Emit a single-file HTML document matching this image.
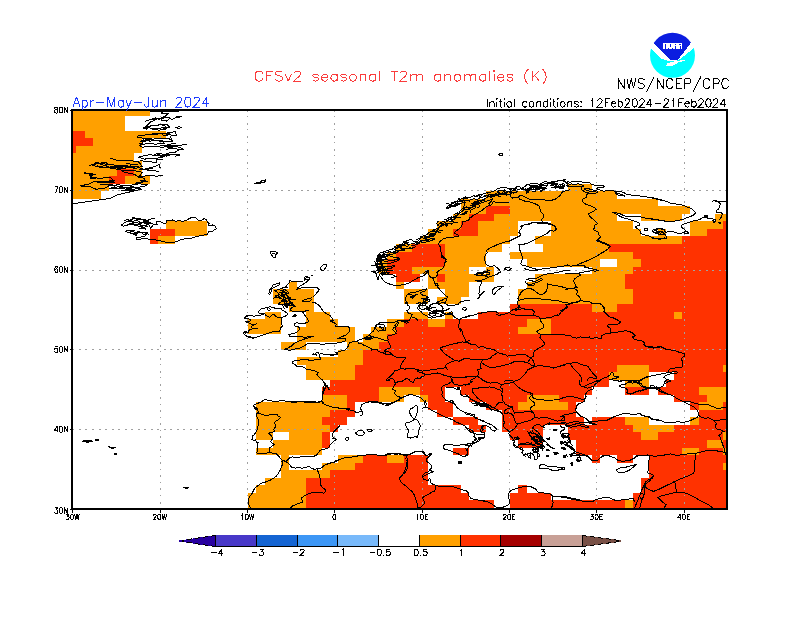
<!DOCTYPE html><html><head><meta charset="utf-8"><style>html,body{margin:0;padding:0;background:#fff;font-family:"Liberation Sans",sans-serif}body{width:800px;height:618px;position:relative;overflow:hidden}</style></head><body><svg width="800" height="618" viewBox="0 0 800 618" style="position:absolute;left:0;top:0">
<rect width="800" height="618" fill="#fff"/>
<g shape-rendering="crispEdges">
<rect x="72.25" y="110.00" width="77.78" height="5.79" fill="#ffa000"/>
<rect x="72.25" y="115.79" width="53.22" height="7.54" fill="#ffa000"/>
<rect x="72.25" y="123.33" width="53.22" height="7.54" fill="#ffa000"/>
<rect x="72.25" y="130.87" width="12.28" height="7.54" fill="#ff3200"/>
<rect x="84.53" y="130.87" width="81.88" height="7.54" fill="#ffa000"/>
<rect x="72.25" y="138.41" width="20.47" height="7.54" fill="#ff3200"/>
<rect x="92.72" y="138.41" width="49.12" height="7.54" fill="#ffa000"/>
<rect x="72.25" y="145.95" width="4.09" height="7.54" fill="#ff3200"/>
<rect x="76.34" y="145.95" width="65.50" height="7.54" fill="#ffa000"/>
<rect x="72.25" y="153.49" width="61.41" height="7.54" fill="#ffa000"/>
<rect x="72.25" y="161.03" width="69.59" height="7.54" fill="#ffa000"/>
<rect x="72.25" y="168.57" width="45.03" height="7.54" fill="#ffa000"/>
<rect x="117.28" y="168.57" width="16.38" height="7.54" fill="#ff3200"/>
<rect x="133.66" y="168.57" width="8.19" height="7.54" fill="#ffa000"/>
<rect x="72.25" y="176.11" width="36.84" height="7.54" fill="#ffa000"/>
<rect x="109.09" y="176.11" width="16.38" height="7.54" fill="#ff3200"/>
<rect x="125.47" y="176.11" width="24.56" height="7.54" fill="#ffa000"/>
<rect x="72.25" y="183.65" width="36.84" height="7.54" fill="#ffa000"/>
<rect x="567.59" y="183.65" width="24.56" height="7.54" fill="#ffa000"/>
<rect x="72.25" y="191.19" width="28.66" height="7.54" fill="#ffa000"/>
<rect x="485.72" y="191.19" width="131.00" height="7.54" fill="#ffa000"/>
<rect x="461.16" y="198.73" width="196.50" height="7.54" fill="#ffa000"/>
<rect x="461.16" y="206.27" width="24.56" height="7.54" fill="#ffa000"/>
<rect x="485.72" y="206.27" width="24.56" height="7.54" fill="#ff3200"/>
<rect x="510.28" y="206.27" width="180.12" height="7.54" fill="#ffa000"/>
<rect x="452.97" y="213.81" width="16.38" height="7.54" fill="#ffa000"/>
<rect x="469.34" y="213.81" width="24.56" height="7.54" fill="#ff3200"/>
<rect x="493.91" y="213.81" width="122.81" height="7.54" fill="#ffa000"/>
<rect x="641.28" y="213.81" width="40.94" height="7.54" fill="#ffa000"/>
<rect x="714.97" y="213.81" width="12.28" height="7.54" fill="#ffa000"/>
<rect x="166.41" y="221.35" width="40.94" height="7.54" fill="#ffa000"/>
<rect x="436.59" y="221.35" width="24.56" height="7.54" fill="#ffa000"/>
<rect x="461.16" y="221.35" width="16.38" height="7.54" fill="#ff3200"/>
<rect x="477.53" y="221.35" width="40.94" height="7.54" fill="#ffa000"/>
<rect x="551.22" y="221.35" width="81.88" height="7.54" fill="#ffa000"/>
<rect x="690.41" y="221.35" width="32.75" height="7.54" fill="#ffa000"/>
<rect x="723.16" y="221.35" width="4.09" height="7.54" fill="#ff3200"/>
<rect x="150.03" y="228.89" width="24.56" height="7.54" fill="#ff3200"/>
<rect x="174.59" y="228.89" width="32.75" height="7.54" fill="#ffa000"/>
<rect x="428.41" y="228.89" width="24.56" height="7.54" fill="#ffa000"/>
<rect x="452.97" y="228.89" width="24.56" height="7.54" fill="#ff3200"/>
<rect x="477.53" y="228.89" width="40.94" height="7.54" fill="#ffa000"/>
<rect x="551.22" y="228.89" width="90.06" height="7.54" fill="#ffa000"/>
<rect x="657.66" y="228.89" width="8.19" height="7.54" fill="#ffa000"/>
<rect x="690.41" y="228.89" width="16.38" height="7.54" fill="#ffa000"/>
<rect x="706.78" y="228.89" width="20.47" height="7.54" fill="#ff3200"/>
<rect x="150.03" y="236.43" width="8.19" height="7.54" fill="#ff3200"/>
<rect x="158.22" y="236.43" width="16.38" height="7.54" fill="#ffa000"/>
<rect x="420.22" y="236.43" width="90.06" height="7.54" fill="#ffa000"/>
<rect x="534.84" y="236.43" width="147.38" height="7.54" fill="#ffa000"/>
<rect x="682.22" y="236.43" width="45.03" height="7.54" fill="#ff3200"/>
<rect x="395.66" y="243.97" width="16.38" height="7.54" fill="#ffa000"/>
<rect x="412.03" y="243.97" width="32.75" height="7.54" fill="#ff3200"/>
<rect x="444.78" y="243.97" width="57.31" height="7.54" fill="#ffa000"/>
<rect x="543.03" y="243.97" width="65.50" height="7.54" fill="#ffa000"/>
<rect x="608.53" y="243.97" width="118.72" height="7.54" fill="#ff3200"/>
<rect x="387.47" y="251.51" width="8.19" height="7.54" fill="#ffa000"/>
<rect x="395.66" y="251.51" width="49.12" height="7.54" fill="#ff3200"/>
<rect x="444.78" y="251.51" width="40.94" height="7.54" fill="#ffa000"/>
<rect x="510.28" y="251.51" width="122.81" height="7.54" fill="#ffa000"/>
<rect x="633.09" y="251.51" width="94.16" height="7.54" fill="#ff3200"/>
<rect x="379.28" y="259.05" width="8.19" height="7.54" fill="#ffa000"/>
<rect x="387.47" y="259.05" width="57.31" height="7.54" fill="#ff3200"/>
<rect x="444.78" y="259.05" width="40.94" height="7.54" fill="#ffa000"/>
<rect x="526.66" y="259.05" width="73.69" height="7.54" fill="#ffa000"/>
<rect x="616.72" y="259.05" width="24.56" height="7.54" fill="#ffa000"/>
<rect x="641.28" y="259.05" width="85.97" height="7.54" fill="#ff3200"/>
<rect x="379.28" y="266.59" width="8.19" height="7.54" fill="#ffa000"/>
<rect x="387.47" y="266.59" width="24.56" height="7.54" fill="#ff3200"/>
<rect x="412.03" y="266.59" width="57.31" height="7.54" fill="#ffa000"/>
<rect x="485.72" y="266.59" width="8.19" height="7.54" fill="#ffa000"/>
<rect x="592.16" y="266.59" width="40.94" height="7.54" fill="#ffa000"/>
<rect x="633.09" y="266.59" width="94.16" height="7.54" fill="#ff3200"/>
<rect x="395.66" y="274.13" width="24.56" height="7.54" fill="#ff3200"/>
<rect x="428.41" y="274.13" width="8.19" height="7.54" fill="#ffa000"/>
<rect x="436.59" y="274.13" width="8.19" height="7.54" fill="#ff3200"/>
<rect x="444.78" y="274.13" width="49.12" height="7.54" fill="#ffa000"/>
<rect x="534.84" y="274.13" width="90.06" height="7.54" fill="#ffa000"/>
<rect x="624.91" y="274.13" width="102.34" height="7.54" fill="#ff3200"/>
<rect x="289.22" y="281.67" width="8.19" height="7.54" fill="#ffa000"/>
<rect x="395.66" y="281.67" width="8.19" height="7.54" fill="#ffa000"/>
<rect x="428.41" y="281.67" width="40.94" height="7.54" fill="#ffa000"/>
<rect x="526.66" y="281.67" width="98.25" height="7.54" fill="#ffa000"/>
<rect x="624.91" y="281.67" width="102.34" height="7.54" fill="#ff3200"/>
<rect x="272.84" y="289.21" width="40.94" height="7.54" fill="#ffa000"/>
<rect x="403.84" y="289.21" width="24.56" height="7.54" fill="#ffa000"/>
<rect x="444.78" y="289.21" width="24.56" height="7.54" fill="#ffa000"/>
<rect x="518.47" y="289.21" width="114.62" height="7.54" fill="#ffa000"/>
<rect x="633.09" y="289.21" width="94.16" height="7.54" fill="#ff3200"/>
<rect x="272.84" y="296.75" width="40.94" height="7.54" fill="#ffa000"/>
<rect x="403.84" y="296.75" width="24.56" height="7.54" fill="#ffa000"/>
<rect x="436.59" y="296.75" width="24.56" height="7.54" fill="#ffa000"/>
<rect x="518.47" y="296.75" width="114.62" height="7.54" fill="#ffa000"/>
<rect x="633.09" y="296.75" width="94.16" height="7.54" fill="#ff3200"/>
<rect x="289.22" y="304.29" width="24.56" height="7.54" fill="#ffa000"/>
<rect x="510.28" y="304.29" width="81.88" height="7.54" fill="#ff3200"/>
<rect x="592.16" y="304.29" width="24.56" height="7.54" fill="#ffa000"/>
<rect x="616.72" y="304.29" width="110.53" height="7.54" fill="#ff3200"/>
<rect x="264.66" y="311.83" width="16.38" height="7.54" fill="#ffa000"/>
<rect x="305.59" y="311.83" width="24.56" height="7.54" fill="#ffa000"/>
<rect x="403.84" y="311.83" width="24.56" height="7.54" fill="#ffa000"/>
<rect x="444.78" y="311.83" width="8.19" height="7.54" fill="#ffa000"/>
<rect x="477.53" y="311.83" width="196.50" height="7.54" fill="#ff3200"/>
<rect x="674.03" y="311.83" width="8.19" height="7.54" fill="#ffa000"/>
<rect x="682.22" y="311.83" width="45.03" height="7.54" fill="#ff3200"/>
<rect x="248.28" y="319.37" width="32.75" height="7.54" fill="#ffa000"/>
<rect x="305.59" y="319.37" width="32.75" height="7.54" fill="#ffa000"/>
<rect x="387.47" y="319.37" width="16.38" height="7.54" fill="#ffa000"/>
<rect x="403.84" y="319.37" width="24.56" height="7.54" fill="#ff3200"/>
<rect x="428.41" y="319.37" width="16.38" height="7.54" fill="#ffa000"/>
<rect x="444.78" y="319.37" width="81.88" height="7.54" fill="#ff3200"/>
<rect x="526.66" y="319.37" width="24.56" height="7.54" fill="#ffa000"/>
<rect x="551.22" y="319.37" width="176.03" height="7.54" fill="#ff3200"/>
<rect x="248.28" y="326.91" width="32.75" height="7.54" fill="#ffa000"/>
<rect x="297.41" y="326.91" width="57.31" height="7.54" fill="#ffa000"/>
<rect x="371.09" y="326.91" width="24.56" height="7.54" fill="#ffa000"/>
<rect x="395.66" y="326.91" width="122.81" height="7.54" fill="#ff3200"/>
<rect x="518.47" y="326.91" width="32.75" height="7.54" fill="#ffa000"/>
<rect x="551.22" y="326.91" width="176.03" height="7.54" fill="#ff3200"/>
<rect x="297.41" y="334.45" width="57.31" height="7.54" fill="#ffa000"/>
<rect x="362.91" y="334.45" width="24.56" height="7.54" fill="#ffa000"/>
<rect x="387.47" y="334.45" width="339.78" height="7.54" fill="#ff3200"/>
<rect x="281.03" y="341.99" width="24.56" height="7.54" fill="#ffa000"/>
<rect x="346.53" y="341.99" width="32.75" height="7.54" fill="#ffa000"/>
<rect x="379.28" y="341.99" width="347.97" height="7.54" fill="#ff3200"/>
<rect x="338.34" y="349.53" width="24.56" height="7.54" fill="#ffa000"/>
<rect x="362.91" y="349.53" width="364.34" height="7.54" fill="#ff3200"/>
<rect x="297.41" y="357.07" width="65.50" height="7.54" fill="#ffa000"/>
<rect x="362.91" y="357.07" width="364.34" height="7.54" fill="#ff3200"/>
<rect x="305.59" y="364.61" width="49.12" height="7.54" fill="#ffa000"/>
<rect x="354.72" y="364.61" width="262.00" height="7.54" fill="#ff3200"/>
<rect x="616.72" y="364.61" width="32.75" height="7.54" fill="#ffa000"/>
<rect x="649.47" y="364.61" width="73.69" height="7.54" fill="#ff3200"/>
<rect x="723.16" y="364.61" width="4.09" height="7.54" fill="#ffa000"/>
<rect x="305.59" y="372.15" width="49.12" height="7.54" fill="#ffa000"/>
<rect x="354.72" y="372.15" width="253.81" height="7.54" fill="#ff3200"/>
<rect x="608.53" y="372.15" width="40.94" height="7.54" fill="#ffa000"/>
<rect x="674.03" y="372.15" width="53.22" height="7.54" fill="#ff3200"/>
<rect x="330.16" y="379.69" width="278.38" height="7.54" fill="#ff3200"/>
<rect x="624.91" y="379.69" width="24.56" height="7.54" fill="#ffa000"/>
<rect x="665.84" y="379.69" width="61.41" height="7.54" fill="#ff3200"/>
<rect x="321.97" y="387.23" width="57.31" height="7.54" fill="#ff3200"/>
<rect x="379.28" y="387.23" width="40.94" height="7.54" fill="#ffa000"/>
<rect x="420.22" y="387.23" width="24.56" height="7.54" fill="#ff3200"/>
<rect x="461.16" y="387.23" width="131.00" height="7.54" fill="#ff3200"/>
<rect x="624.91" y="387.23" width="24.56" height="7.54" fill="#ff3200"/>
<rect x="657.66" y="387.23" width="40.94" height="7.54" fill="#ff3200"/>
<rect x="698.59" y="387.23" width="28.66" height="7.54" fill="#ffa000"/>
<rect x="321.97" y="394.77" width="24.56" height="7.54" fill="#ffa000"/>
<rect x="346.53" y="394.77" width="32.75" height="7.54" fill="#ff3200"/>
<rect x="379.28" y="394.77" width="24.56" height="7.54" fill="#ffa000"/>
<rect x="420.22" y="394.77" width="8.19" height="7.54" fill="#ffa000"/>
<rect x="428.41" y="394.77" width="16.38" height="7.54" fill="#ff3200"/>
<rect x="469.34" y="394.77" width="57.31" height="7.54" fill="#ff3200"/>
<rect x="526.66" y="394.77" width="32.75" height="7.54" fill="#ffa000"/>
<rect x="559.41" y="394.77" width="24.56" height="7.54" fill="#ff3200"/>
<rect x="674.03" y="394.77" width="32.75" height="7.54" fill="#ff3200"/>
<rect x="706.78" y="394.77" width="20.47" height="7.54" fill="#ffa000"/>
<rect x="256.47" y="402.31" width="90.06" height="7.54" fill="#ffa000"/>
<rect x="346.53" y="402.31" width="8.19" height="7.54" fill="#ff3200"/>
<rect x="428.41" y="402.31" width="24.56" height="7.54" fill="#ff3200"/>
<rect x="485.72" y="402.31" width="32.75" height="7.54" fill="#ff3200"/>
<rect x="518.47" y="402.31" width="49.12" height="7.54" fill="#ffa000"/>
<rect x="567.59" y="402.31" width="8.19" height="7.54" fill="#ff3200"/>
<rect x="690.41" y="402.31" width="8.19" height="7.54" fill="#ff3200"/>
<rect x="698.59" y="402.31" width="24.56" height="7.54" fill="#ffa000"/>
<rect x="723.16" y="402.31" width="4.09" height="7.54" fill="#ff3200"/>
<rect x="256.47" y="409.85" width="73.69" height="7.54" fill="#ffa000"/>
<rect x="330.16" y="409.85" width="24.56" height="7.54" fill="#ff3200"/>
<rect x="436.59" y="409.85" width="16.38" height="7.54" fill="#ff3200"/>
<rect x="502.09" y="409.85" width="73.69" height="7.54" fill="#ff3200"/>
<rect x="698.59" y="409.85" width="28.66" height="7.54" fill="#ff3200"/>
<rect x="256.47" y="417.39" width="65.50" height="7.54" fill="#ffa000"/>
<rect x="321.97" y="417.39" width="24.56" height="7.54" fill="#ff3200"/>
<rect x="452.97" y="417.39" width="24.56" height="7.54" fill="#ff3200"/>
<rect x="502.09" y="417.39" width="81.88" height="7.54" fill="#ff3200"/>
<rect x="592.16" y="417.39" width="32.75" height="7.54" fill="#ff3200"/>
<rect x="624.91" y="417.39" width="24.56" height="7.54" fill="#ffa000"/>
<rect x="690.41" y="417.39" width="8.19" height="7.54" fill="#ffa000"/>
<rect x="698.59" y="417.39" width="28.66" height="7.54" fill="#ff3200"/>
<rect x="256.47" y="424.93" width="73.69" height="7.54" fill="#ffa000"/>
<rect x="330.16" y="424.93" width="8.19" height="7.54" fill="#ff3200"/>
<rect x="469.34" y="424.93" width="16.38" height="7.54" fill="#ff3200"/>
<rect x="502.09" y="424.93" width="40.94" height="7.54" fill="#ff3200"/>
<rect x="567.59" y="424.93" width="65.50" height="7.54" fill="#ff3200"/>
<rect x="633.09" y="424.93" width="40.94" height="7.54" fill="#ffa000"/>
<rect x="674.03" y="424.93" width="53.22" height="7.54" fill="#ff3200"/>
<rect x="256.47" y="432.47" width="16.38" height="7.54" fill="#ffa000"/>
<rect x="289.22" y="432.47" width="32.75" height="7.54" fill="#ffa000"/>
<rect x="321.97" y="432.47" width="8.19" height="7.54" fill="#ff3200"/>
<rect x="510.28" y="432.47" width="32.75" height="7.54" fill="#ff3200"/>
<rect x="567.59" y="432.47" width="73.69" height="7.54" fill="#ff3200"/>
<rect x="641.28" y="432.47" width="16.38" height="7.54" fill="#ffa000"/>
<rect x="657.66" y="432.47" width="65.50" height="7.54" fill="#ff3200"/>
<rect x="723.16" y="432.47" width="4.09" height="7.54" fill="#ffa000"/>
<rect x="272.84" y="440.01" width="49.12" height="7.54" fill="#ffa000"/>
<rect x="321.97" y="440.01" width="8.19" height="7.54" fill="#ff3200"/>
<rect x="518.47" y="440.01" width="24.56" height="7.54" fill="#ff3200"/>
<rect x="575.78" y="440.01" width="131.00" height="7.54" fill="#ff3200"/>
<rect x="706.78" y="440.01" width="16.38" height="7.54" fill="#ffa000"/>
<rect x="723.16" y="440.01" width="4.09" height="7.54" fill="#ff3200"/>
<rect x="256.47" y="447.55" width="65.50" height="7.54" fill="#ffa000"/>
<rect x="452.97" y="447.55" width="16.38" height="7.54" fill="#ff3200"/>
<rect x="575.78" y="447.55" width="106.44" height="7.54" fill="#ff3200"/>
<rect x="682.22" y="447.55" width="16.38" height="7.54" fill="#ffa000"/>
<rect x="698.59" y="447.55" width="24.56" height="7.54" fill="#ff3200"/>
<rect x="723.16" y="447.55" width="4.09" height="7.54" fill="#ffa000"/>
<rect x="281.03" y="455.09" width="8.19" height="7.54" fill="#ffa000"/>
<rect x="338.34" y="455.09" width="24.56" height="7.54" fill="#ffa000"/>
<rect x="362.91" y="455.09" width="24.56" height="7.54" fill="#ff3200"/>
<rect x="387.47" y="455.09" width="16.38" height="7.54" fill="#ffa000"/>
<rect x="403.84" y="455.09" width="24.56" height="7.54" fill="#ff3200"/>
<rect x="592.16" y="455.09" width="8.19" height="7.54" fill="#ff3200"/>
<rect x="616.72" y="455.09" width="16.38" height="7.54" fill="#ff3200"/>
<rect x="649.47" y="455.09" width="77.78" height="7.54" fill="#ff3200"/>
<rect x="281.03" y="462.63" width="8.19" height="7.54" fill="#ffa000"/>
<rect x="321.97" y="462.63" width="32.75" height="7.54" fill="#ffa000"/>
<rect x="354.72" y="462.63" width="73.69" height="7.54" fill="#ff3200"/>
<rect x="649.47" y="462.63" width="73.69" height="7.54" fill="#ff3200"/>
<rect x="723.16" y="462.63" width="4.09" height="7.54" fill="#ffa000"/>
<rect x="281.03" y="470.17" width="49.12" height="7.54" fill="#ffa000"/>
<rect x="330.16" y="470.17" width="98.25" height="7.54" fill="#ff3200"/>
<rect x="649.47" y="470.17" width="77.78" height="7.54" fill="#ff3200"/>
<rect x="264.66" y="477.71" width="40.94" height="7.54" fill="#ffa000"/>
<rect x="305.59" y="477.71" width="122.81" height="7.54" fill="#ff3200"/>
<rect x="641.28" y="477.71" width="85.97" height="7.54" fill="#ff3200"/>
<rect x="256.47" y="485.25" width="49.12" height="7.54" fill="#ffa000"/>
<rect x="305.59" y="485.25" width="155.56" height="7.54" fill="#ff3200"/>
<rect x="518.47" y="485.25" width="8.19" height="7.54" fill="#ff3200"/>
<rect x="641.28" y="485.25" width="85.97" height="7.54" fill="#ff3200"/>
<rect x="248.28" y="492.79" width="57.31" height="7.54" fill="#ffa000"/>
<rect x="305.59" y="492.79" width="163.75" height="7.54" fill="#ff3200"/>
<rect x="510.28" y="492.79" width="40.94" height="7.54" fill="#ff3200"/>
<rect x="633.09" y="492.79" width="94.16" height="7.54" fill="#ff3200"/>
<rect x="248.28" y="500.33" width="57.31" height="7.54" fill="#ffa000"/>
<rect x="305.59" y="500.33" width="188.31" height="7.54" fill="#ff3200"/>
<rect x="510.28" y="500.33" width="114.62" height="7.54" fill="#ff3200"/>
<rect x="624.91" y="500.33" width="8.19" height="7.54" fill="#ffa000"/>
<rect x="633.09" y="500.33" width="94.16" height="7.54" fill="#ff3200"/>
</g>
<g stroke="#a0a0a0" stroke-width="1" stroke-dasharray="1.5 5" shape-rendering="crispEdges">
<line x1="160.5" y1="110.0" x2="160.5" y2="509.0" stroke-dasharray="2 4.53 1 5.53" stroke-dashoffset="0.3"/>
<line x1="247.5" y1="110.0" x2="247.5" y2="509.0" stroke-dasharray="2 4.53 1 5.53" stroke-dashoffset="0.3"/>
<line x1="334.5" y1="110.0" x2="334.5" y2="509.0" stroke-dasharray="2 4.53 1 5.53" stroke-dashoffset="0.3"/>
<line x1="422.5" y1="110.0" x2="422.5" y2="509.0" stroke-dasharray="2 4.53 1 5.53" stroke-dashoffset="0.3"/>
<line x1="509.5" y1="110.0" x2="509.5" y2="509.0" stroke-dasharray="2 4.53 1 5.53" stroke-dashoffset="0.3"/>
<line x1="596.5" y1="110.0" x2="596.5" y2="509.0" stroke-dasharray="2 4.53 1 5.53" stroke-dashoffset="0.3"/>
<line x1="684.5" y1="110.0" x2="684.5" y2="509.0" stroke-dasharray="2 4.53 1 5.53" stroke-dashoffset="0.3"/>
<line x1="72.2" y1="429.5" x2="727.2" y2="429.5" stroke-dasharray="2 4.53" stroke-dashoffset="-0.2"/>
<line x1="72.2" y1="349.5" x2="727.2" y2="349.5" stroke-dasharray="2 4.53" stroke-dashoffset="-0.2"/>
<line x1="72.2" y1="270.5" x2="727.2" y2="270.5" stroke-dasharray="2 4.53" stroke-dashoffset="-0.2"/>
<line x1="72.2" y1="190.5" x2="727.2" y2="190.5" stroke-dasharray="2 4.53" stroke-dashoffset="-0.2"/>
</g>
<clipPath id="mc"><rect x="72" y="110" width="655" height="399"/></clipPath><g clip-path="url(#mc)"><path d="M150.3,112.0 158.4,111.0 174.4,111.6 179.4,111.0 M161.4,114.0 168.4,113.0 164.4,117.0 170.4,118.0 166.4,121.1 161.4,120.0 164.4,116.0 M171.4,120.0 176.4,117.0 181.4,116.4 177.4,118.0 M145.3,121.1 152.3,119.0 158.4,118.4 150.3,122.1 147.3,125.1 143.3,128.1 146.3,129.1 150.3,126.1 158.4,125.1 166.4,124.1 169.4,127.1 160.4,128.1 152.3,129.1 158.4,130.1 166.4,129.7 M174.4,128.1 179.4,126.5 181.4,127.7 176.4,129.1 M137.3,136.1 144.3,135.1 154.3,134.1 166.4,133.1 175.4,131.7 176.4,135.1 170.4,136.1 172.4,141.1 168.4,138.1 158.4,138.1 150.3,139.7 142.3,138.1 137.3,137.1 M142.3,140.1 150.3,141.1 160.4,140.1 164.4,143.1 156.3,144.1 146.3,143.7 139.3,145.1 142.3,147.2 150.3,146.2 162.4,147.2 170.4,146.2 179.4,147.2 183.5,149.2 178.4,150.2 174.4,152.6 166.4,153.2 164.4,156.2 156.3,155.8 150.3,154.6 142.3,156.2 138.3,157.2 144.3,159.2 150.3,158.2 157.3,159.2 156.3,162.2 148.3,161.8 140.3,160.6 M166.4,149.2 174.4,148.2 M110.2,158.2 118.2,160.6 130.2,160.6 138.3,161.8 142.3,166.2 136.3,168.2 126.2,167.2 116.2,165.2 106.1,164.2 96.1,162.6 92.1,165.2 100.1,167.2 112.2,168.2 122.2,170.2 134.3,170.7 142.3,172.3 140.3,175.3 138.3,177.3 144.3,178.3 145.3,181.3 140.3,180.3 M84.1,172.7 94.1,174.3 90.1,177.3 100.1,178.3 110.2,177.3 113.2,180.3 104.1,181.9 94.1,181.3 88.1,184.3 80.0,185.9 90.1,186.7 96.1,189.3 104.1,188.3 110.2,185.3 120.2,186.3 130.2,185.3 138.3,183.9 147.3,184.3 144.3,186.7 136.3,187.3 128.2,188.7 M118.2,168.2 124.2,172.3 134.3,174.3 139.3,177.3 M72.0,204.0 82.0,202.4 96.1,200.4 110.2,198.4 116.2,195.3 128.2,192.3 141.3,189.3 138.3,188.3 128.2,190.3 M120.6,225.6 125.0,222.5 131.2,219.4 136.2,218.1 140.0,219.0 145.0,220.6 148.1,221.9 148.8,225.0 145.6,223.8 142.5,222.5 138.8,221.9 135.0,222.5 131.2,223.8 127.5,225.0 123.8,226.2 120.6,225.6 M127.5,220.6 132.5,221.2 137.5,220.6 M133.8,225.0 138.8,226.2 145.0,225.6 M125.0,231.2 130.0,230.0 135.0,230.6 132.5,231.9 127.5,232.2 125.0,231.2 M138.8,228.1 144.4,228.8 141.2,227.5 M148.8,225.0 150.6,228.1 153.1,225.0 156.2,223.8 156.2,221.9 160.0,221.2 163.1,223.1 165.6,223.8 166.9,220.6 172.5,220.0 175.6,221.2 178.8,220.6 182.5,221.2 186.2,220.6 190.0,218.1 193.1,217.5 196.2,218.1 197.5,220.0 201.2,220.6 203.8,218.8 206.2,219.4 207.5,221.9 209.4,223.8 208.1,225.6 212.5,225.0 215.6,226.2 216.2,228.8 213.8,230.0 211.9,231.9 208.8,231.2 207.5,234.4 201.2,235.6 195.0,236.9 190.0,238.8 185.0,238.8 180.0,240.0 176.2,241.9 170.0,242.5 163.8,241.9 160.0,240.6 156.2,240.0 151.2,239.4 146.2,238.8 141.2,239.0 136.9,239.4 136.2,237.8 140.0,237.2 145.0,236.2 146.9,234.4 143.8,234.4 141.9,233.1 145.6,232.8 146.9,233.8 M290.0,280.6 291.2,281.2 297.5,281.2 303.8,281.0 305.6,278.8 306.9,276.9 309.4,278.1 308.1,280.6 305.0,283.1 300.0,286.2 297.5,288.1 296.9,289.4 298.8,288.5 303.8,287.5 310.0,287.5 317.5,287.8 319.4,289.8 317.5,291.9 315.0,295.0 312.5,297.5 308.8,298.5 305.0,299.4 301.9,301.2 305.6,301.9 310.0,301.2 311.9,299.4 310.0,298.1 M311.9,301.9 315.0,302.8 318.1,304.4 320.6,306.9 321.9,309.4 323.8,311.9 326.9,313.8 330.0,315.6 331.9,318.1 333.1,320.6 330.0,321.0 333.8,322.5 336.2,324.4 335.6,326.2 338.8,326.2 345.0,326.0 348.8,326.9 349.8,329.4 348.8,332.5 346.2,335.0 343.1,336.2 340.0,337.5 337.5,338.5 342.5,338.8 346.2,339.0 345.0,341.2 340.0,342.5 336.2,343.1 330.0,343.5 325.0,344.0 321.2,344.4 317.5,343.5 312.5,343.8 308.8,343.1 306.2,344.4 303.8,346.2 300.0,348.1 296.2,348.8 291.2,350.0 287.5,350.0 284.4,349.4 287.5,348.1 291.2,346.2 293.8,343.8 296.9,341.9 300.0,340.6 305.0,338.8 310.0,337.5 313.8,336.0 311.2,336.2 306.2,337.2 301.2,336.9 297.5,336.2 292.5,336.5 289.4,336.2 288.8,334.8 291.9,333.8 296.2,332.8 298.8,330.6 299.4,328.1 298.1,326.2 295.0,326.2 294.4,323.8 296.9,322.8 300.0,323.5 303.8,323.1 307.5,322.9 308.8,321.2 307.5,318.8 305.6,316.2 303.8,313.8 302.5,311.9 305.0,311.2 308.8,310.6 M308.8,310.6 305.0,311.0 300.0,311.2 296.2,311.9 292.5,311.5 290.0,310.0 291.2,308.1 293.8,306.2 292.5,305.0 290.0,305.6 287.5,306.2 285.6,305.6 286.2,303.1 283.8,304.4 280.0,305.0 278.1,303.8 281.2,301.9 283.8,300.0 281.2,298.8 277.5,297.5 273.8,298.1 275.6,296.2 279.4,295.0 277.5,292.5 275.0,290.6 278.8,289.4 282.5,288.1 286.2,286.9 287.5,284.4 289.4,282.5 290.0,280.6 M268.8,294.4 269.4,290.0 271.9,287.5 273.1,285.0 276.9,283.8 280.0,282.5 279.4,285.0 276.2,286.2 273.8,287.5 271.9,289.4 270.6,293.8 268.8,294.4 M280.0,290.0 283.8,291.9 281.2,293.8 285.0,295.0 282.5,296.9 286.2,298.1 283.8,300.0 287.5,301.2 285.6,303.8 289.4,303.1 291.2,301.9 288.8,300.0 290.6,298.1 287.5,296.2 286.2,293.8 287.5,291.2 284.4,289.4 281.9,290.6 283.1,293.1 280.6,295.6 284.4,297.5 281.9,300.6 286.2,301.9 287.5,305.0 290.0,303.8 M304.4,277.5 306.2,276.5 308.8,277.2 310.0,278.8 307.5,280.0 305.0,279.4 304.4,277.5 M311.2,275.6 313.1,275.0 M292.5,316.2 295.0,314.8 296.5,315.2 294.4,316.9 292.5,316.2 M257.8,312.0 260.0,309.8 262.3,308.3 266.0,307.9 268.3,307.5 269.8,306.4 272.0,307.5 275.0,308.1 278.0,308.3 281.0,308.4 282.1,310.1 284.8,311.3 287.0,313.1 287.4,314.6 285.5,316.1 283.3,316.9 281.8,317.6 281.0,319.1 281.4,321.4 281.8,324.0 282.5,326.3 281.0,327.4 280.3,329.6 279.5,331.5 277.3,331.9 275.0,331.5 272.8,331.9 270.5,332.3 268.3,333.4 266.0,334.1 263.8,334.9 261.5,335.3 259.3,336.4 257.0,337.1 254.8,337.1 253.3,338.3 251.0,337.5 248.8,337.5 246.5,336.0 244.6,334.9 243.5,333.4 243.9,331.9 245.8,331.5 247.3,333.0 248.4,332.3 248.4,330.8 249.9,329.6 252.5,328.9 255.1,328.5 257.4,328.4 254.8,328.9 252.1,328.1 251.4,326.6 252.9,325.5 255.1,324.4 256.3,323.9 254.4,324.8 252.1,324.8 250.6,323.6 248.8,322.9 246.5,322.5 245.4,321.8 247.3,321.0 249.1,321.4 251.0,320.3 249.9,319.1 247.3,318.8 245.0,318.4 244.3,317.6 245.8,316.9 246.9,315.8 249.1,315.8 251.8,315.9 254.8,316.1 257.8,315.4 260.8,315.0 263.0,314.6 264.5,313.9 263.4,313.1 261.5,313.9 259.6,313.5 257.8,312.0 M264.9,314.3 266.0,315.8 268.3,316.5 269.8,317.3 270.9,316.1 272.0,315.0 273.5,314.3 274.6,315.0 275.4,316.1 276.9,316.9 278.8,317.6 281.0,318.0 M267.5,307.9 267.9,309.8 269.0,311.3 270.1,309.8 269.8,307.9 M245.0,331.9 246.1,332.3 245.8,333.4 244.9,333.0 245.0,331.9 M245.8,315.8 248.0,316.4 245.8,317.1 M245.4,321.4 248.0,321.9 246.1,322.5 M247.3,336.0 249.5,336.6 251.8,337.1 M565.0,182.5 568.8,183.1 571.2,181.9 575.0,181.2 580.0,181.5 583.8,182.5 586.9,182.2 590.0,183.1 591.9,184.8 596.2,185.2 601.2,185.6 605.0,186.2 602.5,187.5 598.8,187.2 596.2,188.8 600.0,190.0 603.8,191.2 608.8,190.6 613.8,191.0 616.2,191.9 620.0,191.5 623.8,192.5 626.9,194.4 631.2,195.0 636.2,195.6 641.2,196.2 646.2,196.9 652.5,198.1 658.8,199.8 665.0,200.6 M567.5,185.6 571.2,183.8 574.4,184.8 577.5,183.8 581.2,184.4 583.8,186.2 580.0,186.9 576.2,186.0 572.5,186.9 568.8,186.9 567.5,185.6 M583.8,188.8 588.1,188.5 591.9,189.8 596.2,190.6 593.8,191.9 590.0,191.2 585.6,190.0 583.8,188.8 M615.0,192.5 618.8,193.8 622.5,194.4 625.0,196.2 621.2,195.6 617.5,195.0 615.0,192.5 M581.2,186.9 581.9,190.0 585.0,191.9 588.8,193.1 586.2,195.0 586.9,196.9 583.1,198.8 582.5,201.2 585.0,203.8 590.0,205.6 594.4,207.5 596.2,209.4 592.5,211.9 588.8,213.8 589.4,216.2 592.5,218.8 595.6,221.2 597.5,223.8 595.0,225.0 594.4,228.1 593.1,229.4 595.6,230.6 598.1,231.9 598.8,235.0 600.6,236.9 598.8,238.8 596.9,240.0 600.0,241.2 605.0,243.1 608.8,245.0 611.2,246.9 M588.8,193.1 591.9,193.8 596.2,193.1 598.1,191.2 M612.5,212.5 616.2,212.8 620.0,213.8 623.8,215.6 627.5,216.9 632.5,216.5 637.5,216.2 642.5,217.5 650.0,218.8 657.5,220.0 665.0,221.2 M612.5,212.5 615.6,213.8 618.8,215.6 622.5,217.5 627.5,218.8 631.2,220.0 635.0,221.2 638.8,222.5 640.0,225.0 637.5,225.6 635.0,226.9 637.5,228.8 640.0,231.2 641.2,233.8 645.0,235.0 650.0,236.2 652.5,238.1 657.5,238.8 663.8,238.5 665.0,237.5 M644.4,228.8 646.9,228.1 647.5,230.0 645.0,230.6 644.4,228.8 M652.5,231.2 656.2,230.6 657.5,228.8 661.2,228.5 665.0,229.4 M652.5,231.2 655.0,233.1 660.0,234.4 665.0,233.8 M657.5,231.9 661.2,231.2 663.8,232.5 660.0,233.1 657.5,231.9 M650.0,197.6 654.0,197.9 658.0,199.1 662.0,200.1 666.1,201.3 670.1,202.9 671.6,203.6 673.1,202.9 676.1,204.1 681.1,204.6 685.1,206.1 688.7,207.6 691.7,208.6 693.2,210.6 695.7,212.6 694.2,214.6 691.2,216.1 687.1,217.7 683.1,219.2 679.1,220.2 675.1,221.0 670.1,221.2 665.1,221.0 660.0,220.2 655.0,219.2 650.0,218.7 M650.0,236.2 652.0,237.7 655.0,238.2 659.0,239.2 663.1,238.7 666.6,238.0 666.1,236.2 665.1,234.7 662.0,235.0 659.0,234.7 657.0,233.2 654.0,232.7 652.5,231.2 653.0,230.0 656.0,229.7 656.5,228.5 660.0,228.4 664.1,229.2 665.1,231.2 666.6,232.2 670.1,231.4 674.1,232.0 677.1,233.0 681.1,233.2 684.1,232.7 685.6,230.7 687.7,232.2 688.7,233.2 684.1,233.0 M684.1,229.2 682.1,227.7 681.3,226.2 682.1,224.7 685.1,223.7 689.2,222.2 693.2,221.0 697.2,220.2 700.2,219.2 702.2,217.7 704.7,217.3 708.2,218.2 712.2,218.4 714.3,219.7 M684.1,229.2 685.6,230.7 M712.2,201.1 715.3,200.6 718.3,201.6 720.3,203.6 719.8,206.6 718.3,209.1 716.3,210.6 716.8,212.1 720.3,212.3 722.3,213.6 721.8,216.1 720.3,218.7 719.3,220.2 M715.3,201.6 720.3,201.3 726.3,201.3 M704.2,215.3 707.7,215.3 707.7,216.3 704.7,216.1 704.2,215.3 M712.8,220.2 715.3,219.7 715.8,221.7 713.8,222.2 712.8,220.2 M718.8,222.2 720.3,222.0 720.8,223.4 719.3,223.7 718.8,222.2 M656.5,229.7 658.5,228.7 662.0,229.2 664.6,230.2 665.1,232.7 663.1,234.7 660.0,235.0 658.0,233.7 656.5,231.7 656.5,229.7 M376.2,260.0 377.5,256.2 380.0,253.1 383.8,251.9 388.8,250.0 393.8,248.8 395.0,246.2 398.8,245.0 402.5,243.8 403.8,241.9 407.5,240.6 411.2,239.4 413.1,241.2 416.9,241.9 418.8,240.0 420.6,238.8 420.0,236.9 423.8,235.6 427.5,234.4 428.8,232.5 432.5,231.2 435.0,229.4 438.1,228.1 440.0,226.2 441.9,223.8 445.0,222.5 447.5,221.2 450.0,218.8 453.8,216.9 457.5,215.0 460.0,212.5 463.1,210.6 465.0,208.8 463.8,206.2 465.0,203.8 462.5,201.9 463.8,198.8 467.5,197.5 470.0,198.1 M377.5,258.8 381.2,257.5 386.2,258.1 382.5,256.2 378.8,255.6 377.5,258.8 M396.2,247.5 400.0,246.2 403.8,245.6 407.5,246.2 410.0,244.4 406.2,243.8 401.2,244.8 396.2,247.5 M421.2,241.2 425.0,240.0 428.8,239.4 432.5,238.1 435.0,238.8 431.2,240.6 426.2,241.9 422.5,242.5 421.2,241.2 M428.8,235.0 432.5,233.8 436.2,232.5 435.0,234.4 431.2,235.6 428.8,235.0 M437.5,225.0 441.2,222.5 443.8,221.2 446.2,223.1 443.1,225.0 440.0,226.9 437.5,225.0 M445.0,225.0 448.1,223.8 446.9,226.2 445.0,225.0 M447.5,218.1 451.2,216.9 455.0,218.1 457.5,217.5 453.1,219.4 449.4,220.0 447.5,218.1 M446.2,207.5 448.8,205.6 452.5,203.8 456.2,204.4 460.0,203.8 456.2,205.6 451.2,206.5 448.1,207.8 446.2,207.5 M461.2,201.2 465.0,200.0 468.8,200.6 470.0,201.9 M463.1,207.5 466.9,206.9 470.0,208.1 467.5,210.0 463.8,209.4 463.1,207.5 M470.0,217.5 468.8,220.0 465.0,221.2 462.5,221.9 461.9,226.2 460.0,228.1 457.5,230.0 453.8,233.1 457.5,234.4 458.8,236.2 456.2,236.9 451.2,237.2 446.2,237.8 442.5,239.4 439.4,241.9 438.5,243.8 440.6,247.5 440.0,250.0 441.9,253.1 441.2,256.9 445.0,258.8 446.2,261.9 M385.0,252.5 390.0,253.1 395.0,251.2 399.4,250.0 396.9,252.5 391.9,254.4 387.5,255.0 392.5,256.9 397.5,257.5 400.0,258.8 395.0,260.0 390.0,260.6 M377.5,260.0 382.5,260.6 386.2,259.4 M402.5,243.1 406.2,241.9 408.8,242.8 405.0,244.0 M423.8,236.9 426.9,236.0 430.0,236.5 426.2,238.1 423.8,236.9 M433.1,231.9 436.9,230.6 438.8,229.0 435.6,231.5 M498.1,154.4 500.0,153.1 502.5,153.8 502.2,155.6 500.0,155.2 498.1,154.4 M470.0,197.5 473.8,195.6 476.2,196.9 480.0,195.0 483.8,193.8 487.5,192.5 491.2,191.9 495.0,190.6 497.5,188.8 501.2,187.5 505.0,187.2 507.5,188.1 510.0,190.0 513.1,188.1 516.2,188.8 519.4,189.4 522.5,187.5 525.6,186.2 526.9,184.4 531.2,183.8 536.2,183.5 540.0,184.4 543.1,182.5 545.0,181.2 548.8,182.8 552.5,181.2 556.2,181.9 558.8,180.0 562.5,180.6 566.2,182.2 568.1,183.8 566.2,185.6 568.8,186.9 570.0,186.2 M497.5,191.2 501.2,190.0 505.6,190.6 507.5,192.5 503.8,193.8 500.0,193.1 497.5,191.2 M511.2,191.2 515.0,190.2 517.5,191.9 513.8,193.1 511.2,191.2 M520.0,188.8 523.8,189.8 527.5,189.0 530.0,187.5 533.8,188.1 537.5,187.5 540.0,186.2 543.8,185.6 547.5,185.0 546.2,186.9 542.5,187.5 540.0,188.8 538.1,190.0 533.8,189.8 530.0,190.0 526.2,190.2 M528.8,185.0 532.5,185.6 536.2,185.0 538.8,186.2 535.0,186.9 531.2,186.5 528.8,185.0 M550.0,183.8 553.8,182.8 557.5,183.8 556.2,185.6 553.8,187.5 555.6,188.1 557.5,186.2 560.0,184.4 563.8,183.8 565.0,186.2 562.5,187.5 M470.0,200.0 473.8,198.8 477.5,199.4 481.2,197.5 485.0,196.2 488.8,195.6 486.2,198.1 482.5,200.0 478.8,201.2 475.0,202.5 471.2,203.8 475.0,205.0 478.8,203.8 482.5,202.5 486.2,201.2 490.0,200.0 493.1,198.8 491.2,201.2 488.8,203.8 490.0,205.6 492.5,203.8 493.1,201.9 498.8,202.2 505.0,202.5 509.4,203.1 M470.0,206.2 472.5,205.0 476.2,206.9 473.8,208.8 471.2,210.0 470.0,212.5 M477.5,203.8 480.0,206.2 477.5,208.1 M470.0,218.1 473.8,215.0 477.5,213.1 482.5,210.0 486.2,206.9 488.8,205.6 M510.0,190.0 511.2,193.1 510.0,196.2 512.5,198.1 518.1,197.2 520.0,195.6 523.8,196.2 527.5,198.1 530.0,199.4 535.0,200.0 540.0,199.4 545.0,200.0 550.0,200.6 555.0,199.4 557.5,197.5 560.0,195.6 562.5,191.9 566.2,190.6 570.0,189.8 M518.1,197.2 520.0,199.4 525.0,201.2 530.0,201.9 535.0,203.8 538.8,205.6 540.0,208.8 541.2,212.5 543.8,215.0 543.1,218.1 541.2,220.0 543.8,222.5 547.5,223.8 M520.0,226.2 523.8,225.0 528.8,224.4 532.5,222.5 537.5,223.1 542.5,223.8 547.5,223.8 552.5,225.0 555.0,226.2 M532.5,222.6 528.8,223.9 525.0,224.5 521.9,226.4 521.2,228.9 519.4,230.8 518.8,232.6 521.2,233.9 520.0,235.8 516.2,237.6 512.5,239.5 508.8,241.4 505.0,242.0 501.2,243.2 497.5,244.5 495.0,245.8 491.9,247.0 490.0,248.2 487.5,249.5 486.2,251.4 487.5,252.6 485.6,254.5 484.4,257.6 485.0,260.8 485.6,263.9 488.1,265.8 491.2,266.4 494.4,265.8 496.9,267.6 499.4,270.1 501.2,272.0 498.8,272.6 496.9,274.5 492.5,275.8 488.8,277.0 485.0,278.9 481.9,280.1 477.5,280.8 475.6,280.5 478.8,282.0 481.9,281.8 480.6,284.5 479.4,287.0 480.0,290.1 478.8,293.2 479.4,295.8 482.5,293.9 484.4,291.4 481.9,293.2 479.4,297.0 477.5,299.0 M473.8,274.5 478.8,273.5 483.8,273.0 488.8,272.0 490.0,273.9 486.2,275.1 481.2,275.5 476.2,275.1 473.8,274.5 M532.5,222.6 537.5,223.0 543.8,222.6 550.0,223.2 552.5,225.1 555.6,226.4 556.2,229.5 553.8,231.4 550.0,230.1 548.1,232.6 545.0,234.5 541.2,236.4 537.5,238.2 533.8,240.1 531.2,241.4 528.8,242.6 525.0,243.9 521.9,244.5 518.8,244.2 520.0,246.4 519.4,248.9 520.6,252.0 521.9,255.1 522.5,258.2 521.2,262.0 520.6,263.9 522.5,265.1 525.0,265.8 527.5,266.4 531.2,267.6 535.0,268.9 538.1,269.5 542.5,268.9 547.5,268.5 552.5,267.6 557.5,267.0 562.5,266.4 566.9,265.1 570.0,265.8 M570.0,270.1 565.0,270.8 560.0,271.4 557.5,272.6 552.5,273.2 547.5,273.9 542.5,275.1 540.0,276.4 537.5,277.6 535.0,278.9 532.5,278.2 528.8,278.5 526.9,279.5 531.2,280.8 535.0,281.4 538.1,280.1 541.2,278.2 542.5,279.5 539.4,281.4 536.2,282.6 532.5,283.9 528.8,284.5 526.2,283.2 525.6,281.4 M523.8,267.6 526.2,269.5 530.0,270.1 533.8,270.8 537.5,270.1 M504.4,268.9 506.9,267.0 509.4,267.6 511.2,268.9 509.4,270.1 506.9,270.1 504.4,268.9 M526.9,284.5 530.0,285.8 533.8,285.1 535.0,283.2 M492.5,290.1 495.0,287.6 499.4,286.4 503.1,286.4 500.6,288.2 498.1,290.1 496.2,292.0 494.4,294.5 492.5,293.9 492.5,290.1 M525.6,288.9 522.5,290.8 520.6,293.2 518.8,296.4 517.5,299.0 M525.6,288.9 530.0,288.2 533.8,290.1 536.9,292.6 540.0,294.5 543.8,293.9 546.2,291.4 547.5,288.2 548.1,284.5 546.9,282.6 M548.1,284.5 552.5,285.1 557.5,285.8 562.5,287.0 566.2,288.2 570.0,288.0 M596.2,240.6 601.2,242.5 606.2,244.4 610.0,246.2 608.1,248.8 605.0,251.2 601.2,253.1 597.5,255.6 593.8,257.5 590.0,259.4 586.2,261.2 581.2,263.1 577.5,264.8 575.0,265.6 M565.0,265.6 567.5,265.0 570.6,266.2 575.0,265.6 578.8,265.0 582.5,265.0 585.0,266.9 588.8,268.1 592.5,269.0 596.2,269.4 598.1,270.6 595.6,271.2 591.9,270.6 588.8,271.2 585.0,271.9 581.2,272.2 578.8,273.1 575.0,273.5 571.2,273.8 567.5,273.5 565.0,273.1 M583.8,265.0 585.6,266.5 583.8,267.5 M578.8,273.1 580.6,275.0 577.5,276.9 574.4,278.8 573.8,281.2 575.0,284.4 576.2,286.9 577.5,287.5 573.8,288.1 M565.0,289.8 568.8,288.8 573.8,288.1 M573.8,288.1 576.9,290.0 577.5,292.5 576.2,294.4 578.8,296.2 580.6,298.8 580.0,300.6 M565.0,305.0 568.8,304.4 572.5,303.1 576.2,301.9 580.0,300.6 M580.0,300.6 583.8,301.2 588.1,301.5 591.2,302.5 591.9,304.0 596.2,303.8 600.6,304.0 602.5,305.6 604.4,307.5 605.0,310.0 603.8,311.5 606.2,313.8 608.8,316.2 M565.0,307.5 568.1,307.8 M377.5,255.6 381.2,256.9 378.8,258.8 382.5,260.0 386.2,259.4 390.0,260.6 393.8,260.0 397.5,258.8 400.0,259.4 396.9,261.2 392.5,262.5 388.8,263.8 385.0,263.1 381.9,264.4 378.8,263.8 376.9,265.6 380.0,266.9 383.8,266.2 387.5,266.9 391.2,266.2 395.0,265.6 392.5,267.5 388.8,268.8 385.0,269.4 381.9,270.0 379.4,271.2 382.5,272.5 386.2,271.9 390.0,272.5 387.5,274.4 383.8,275.0 380.6,273.8 378.8,275.0 381.2,276.9 M376.9,258.8 377.5,262.5 376.9,267.5 378.8,268.8 M377.5,257.5 380.0,258.1 379.4,260.6 381.9,261.9 380.0,263.1 382.5,265.0 380.6,268.1 383.1,268.8 381.9,271.2 384.4,273.1 382.5,275.6 M381.2,276.9 382.5,279.4 385.0,281.9 388.8,283.8 392.5,285.0 396.2,285.4 401.2,285.0 406.2,284.0 410.0,282.8 412.5,280.6 415.6,279.4 418.1,277.5 421.2,276.5 423.8,275.6 425.6,273.8 427.5,271.9 428.1,270.6 425.0,271.9 423.1,273.8 M428.1,270.6 428.8,274.4 430.0,276.9 432.5,277.5 433.8,280.0 434.4,283.1 436.2,285.0 437.5,286.9 439.4,288.8 440.6,290.6 442.5,292.5 445.0,295.0 447.5,296.9 446.9,298.8 445.0,298.1 M441.2,255.0 443.8,256.9 446.2,259.4 445.0,262.5 444.4,265.6 442.5,268.8 438.8,270.6 436.9,272.5 437.5,275.0 435.6,277.5 432.5,277.5 M435.0,283.8 437.5,283.5 438.1,285.6 435.6,286.0 435.0,283.8 M445.0,298.1 442.5,300.0 439.4,301.2 436.2,302.5 440.0,303.1 443.8,302.5 445.6,303.8 447.5,305.0 450.0,305.6 455.0,305.0 458.1,304.4 459.4,302.5 462.5,301.2 466.2,300.6 470.0,300.2 M447.5,296.9 446.2,300.6 445.0,302.5 M462.5,308.1 465.0,307.5 466.9,308.8 465.6,310.2 463.1,309.8 462.5,308.1 M406.2,302.5 405.6,298.8 406.2,295.6 409.4,293.1 413.1,292.5 416.9,291.9 420.0,290.6 423.8,289.4 426.9,288.8 425.6,290.6 422.5,291.9 420.0,293.1 422.5,295.0 426.2,296.2 428.8,297.5 425.0,298.1 421.2,298.1 425.0,299.4 428.1,300.0 425.0,301.2 422.5,302.5 420.0,304.4 418.1,306.2 417.5,308.8 419.4,310.6 421.2,311.9 422.5,313.8 M406.2,302.5 407.5,305.0 410.0,306.9 408.8,309.4 406.9,310.6 407.5,312.5 410.0,313.8 412.5,314.4 411.2,316.9 410.0,318.8 407.5,321.2 403.8,321.9 401.2,321.0 397.5,320.6 M407.5,295.0 411.2,294.4 413.8,296.2 410.0,296.9 412.5,298.1 415.6,295.0 418.1,293.8 M405.6,301.9 407.5,302.2 407.2,303.8 405.6,303.5 405.6,301.9 M419.4,305.6 422.5,305.0 425.6,305.6 428.1,306.9 426.2,308.8 423.1,309.4 420.0,308.8 418.8,306.9 419.4,305.6 M430.0,305.0 433.1,303.8 436.2,303.1 439.4,304.4 441.9,306.2 443.1,308.8 441.2,310.6 438.1,311.2 435.0,310.6 432.5,311.9 430.0,310.6 428.8,308.1 430.0,305.0 M423.8,299.4 426.9,298.8 430.0,299.4 428.8,301.9 425.6,302.5 423.8,300.6 423.8,299.4 M428.8,313.8 432.5,312.8 436.2,313.8 435.0,315.6 431.9,316.2 429.4,315.6 428.8,313.8 M437.5,310.0 440.0,311.9 443.8,312.5 442.5,310.6 M422.5,313.8 426.2,315.6 428.8,317.5 431.2,318.1 435.0,317.2 438.8,316.2 442.5,315.6 446.2,314.4 448.8,313.1 451.2,313.8 453.1,315.6 455.0,317.5 457.5,318.8 460.0,319.4 461.9,318.1 465.0,316.9 470.0,315.6 M448.8,312.5 451.9,311.9 453.1,313.8 450.6,315.0 448.8,313.8 448.8,312.5 M411.2,316.9 413.8,317.5 416.2,318.8 418.1,320.6 M397.5,320.6 396.9,323.1 395.0,325.6 395.6,328.8 396.9,332.0 M403.8,321.9 406.2,323.1 408.8,322.5 M460.0,319.4 459.4,323.1 458.1,326.2 459.4,328.8 461.2,332.0 M390.0,353.0 393.1,355.5 396.9,357.4 401.2,357.4 405.6,358.0 403.8,360.5 401.9,363.0 400.6,365.5 401.2,368.6 M401.2,368.6 398.1,369.9 395.0,370.5 393.1,373.6 390.6,376.1 387.5,378.6 388.8,379.9 391.9,378.0 394.4,380.5 M401.2,368.6 405.0,369.2 408.1,368.0 411.2,368.6 415.0,369.0 418.8,369.9 M394.4,380.5 395.0,382.4 398.8,381.8 402.5,381.1 406.2,378.6 408.8,379.2 410.0,381.1 413.1,382.4 415.0,379.2 417.5,378.0 420.0,378.6 421.9,376.8 423.8,376.1 425.0,374.2 422.5,373.0 419.4,372.4 417.5,371.1 418.8,369.9 M394.4,380.5 395.6,383.6 393.8,386.1 392.5,389.2 395.6,391.1 394.4,393.6 396.9,396.1 400.6,397.4 399.4,399.2 M418.8,369.9 422.5,371.1 426.9,370.5 431.2,369.9 436.2,369.2 441.2,368.2 446.2,367.8 448.1,369.9 M440.0,348.0 443.1,346.8 447.5,345.5 452.5,344.2 457.5,343.0 462.5,341.8 465.6,342.8 M440.0,348.0 441.9,350.5 444.4,353.6 448.1,356.1 451.9,358.6 455.0,360.8 451.2,361.8 447.5,363.6 445.6,365.5 446.2,367.8 M455.0,360.8 459.4,361.1 463.1,359.2 466.2,358.0 470.0,358.6 M465.6,342.8 467.5,341.1 470.0,340.5 M460.0,328.0 461.9,330.5 462.5,334.2 464.4,337.4 465.6,340.5 465.6,342.8 M425.0,374.2 428.8,374.5 432.5,373.6 437.5,373.0 441.2,374.2 445.0,375.5 450.0,376.8 455.0,377.4 460.0,378.0 465.0,377.4 470.0,376.1 M451.9,378.6 452.5,381.8 454.4,384.2 457.5,384.9 461.2,385.5 465.0,384.2 470.0,384.9 M450.0,376.8 451.9,378.6 451.2,381.8 448.8,383.6 445.0,384.9 M445.0,384.9 442.5,386.1 441.2,388.6 442.5,391.8 441.9,394.9 443.8,398.0 446.2,400.5 450.0,401.8 452.5,403.0 455.0,405.0 M446.2,388.0 450.0,387.4 453.8,388.0 456.2,389.2 458.8,388.6 460.6,390.5 460.0,393.0 461.9,395.5 465.0,396.8 467.5,396.1 469.4,398.0 M457.5,388.0 459.4,387.8 460.0,389.9 458.1,389.9 457.5,388.0 M370.0,401.8 373.8,402.4 378.8,403.0 382.5,404.2 386.2,403.6 391.2,403.0 395.0,401.8 399.4,399.2 402.5,397.4 405.6,396.1 408.8,394.9 412.5,394.9 416.2,396.1 420.0,397.4 422.5,399.2 424.4,401.8 425.0,405.0 M465.0,317.5 468.8,316.2 472.5,315.6 477.5,313.8 482.5,312.8 487.5,311.9 492.5,311.5 496.2,311.9 498.5,313.5 496.9,314.8 499.4,315.2 503.8,314.4 507.5,313.1 510.0,311.9 512.5,310.0 516.2,308.8 518.8,306.9 519.4,305.0 M465.0,309.4 466.9,308.8 M512.5,310.0 517.5,309.4 522.5,308.8 527.5,309.4 532.5,310.0 534.4,311.9 533.1,314.4 535.0,315.6 M510.0,313.8 515.0,315.0 521.2,315.2 527.5,315.6 535.0,315.6 M518.8,306.9 521.2,308.1 525.0,308.5 M535.0,315.6 538.8,316.9 540.0,318.8 545.0,318.1 551.2,317.5 555.0,315.6 558.8,315.0 561.2,311.9 565.0,309.4 M557.5,314.4 559.4,316.2 M540.0,318.8 541.2,321.9 543.1,324.4 543.8,327.5 540.0,329.4 536.9,331.2 538.1,333.1 541.2,334.4 M541.2,334.4 546.2,335.0 552.5,334.8 558.8,334.4 565.0,335.0 M541.2,334.4 540.0,337.5 543.1,341.2 545.0,343.8 542.5,346.2 538.8,348.1 535.0,350.6 533.1,353.1 533.8,356.2 531.2,357.5 M465.0,341.2 467.5,342.5 471.2,344.4 476.2,345.0 478.8,347.5 482.5,346.2 486.2,348.1 490.0,348.8 493.8,349.4 497.5,352.5 501.2,353.8 505.0,354.4 507.5,356.2 511.2,355.0 516.2,355.0 521.2,354.4 526.2,355.0 528.8,356.9 531.2,357.5 M465.0,338.8 466.2,340.6 M465.0,358.1 470.0,359.0 475.0,359.8 480.0,360.0 485.0,359.4 490.0,358.8 491.9,356.2 495.0,354.4 497.5,352.5 M481.2,362.5 485.0,365.0 490.0,367.5 495.0,367.2 500.0,366.2 505.0,365.0 510.0,363.8 513.8,361.9 518.8,361.2 523.8,361.9 527.5,362.5 529.4,360.0 531.2,357.5 M481.2,362.5 482.5,360.0 M481.2,362.5 480.0,366.2 481.2,368.8 477.5,369.4 478.8,372.5 477.5,376.2 473.8,378.8 470.0,380.6 M527.5,362.5 531.2,365.0 535.0,366.2 540.0,365.6 545.0,366.2 550.0,366.9 553.8,368.1 557.5,366.9 561.2,365.6 565.0,365.0 M535.0,366.2 531.2,368.1 527.5,370.0 525.6,373.1 523.1,376.2 520.0,378.8 517.5,380.6 513.8,381.2 M477.5,376.2 481.2,378.8 485.0,381.2 M470.0,380.6 472.5,382.0 M503.8,381.2 508.8,380.0 513.8,381.2 M531.2,357.5 533.1,360.6 535.0,366.2 M465.0,376.2 470.0,376.9 477.5,376.2 M560.0,310.6 563.8,309.4 567.5,307.5 566.2,305.0 M602.5,305.0 603.8,308.8 605.0,311.9 606.9,315.0 610.0,316.9 613.8,318.1 617.5,320.0 620.6,321.9 618.8,323.8 615.0,324.8 611.2,325.0 608.1,324.8 607.5,326.2 610.0,328.1 610.6,331.2 611.2,332.8 M560.0,334.4 565.0,335.0 570.0,335.6 573.1,337.5 576.9,338.1 580.6,336.9 585.0,337.8 589.4,336.9 590.6,338.8 595.0,337.8 598.8,338.1 601.2,338.8 601.9,335.6 605.0,334.0 608.8,333.5 611.2,332.8 M611.2,332.8 616.2,332.5 619.4,331.5 622.5,331.9 624.4,330.6 628.1,331.2 631.2,331.9 633.8,334.4 635.6,335.6 633.1,336.9 633.8,338.8 636.9,340.0 640.0,340.2 642.5,341.2 644.4,343.1 643.8,345.0 646.2,346.9 650.0,347.2 653.8,348.1 657.5,347.5 660.0,346.9 M560.0,366.2 563.1,365.0 566.2,363.8 570.0,363.5 573.8,362.5 577.5,362.8 581.2,364.4 585.0,365.6 588.1,366.2 589.4,368.8 591.2,371.2 593.1,373.8 595.0,375.6 596.9,376.9 596.2,378.8 593.8,378.1 590.0,377.5 588.1,378.8 587.5,381.2 M570.0,363.5 571.9,366.2 573.8,368.8 576.2,371.2 578.8,373.8 580.6,376.2 581.9,378.8 581.2,382.0 M596.2,382.0 600.0,380.0 603.8,378.1 607.5,376.9 610.0,375.0 611.2,372.5 613.8,373.1 613.1,375.6 615.0,376.9 618.8,376.9 616.2,378.1 612.5,378.8 610.0,379.4 612.5,380.0 616.2,380.2 620.0,381.2 625.0,380.6 630.0,381.0 635.0,380.6 640.0,380.0 642.5,378.8 646.2,377.5 650.0,376.2 655.0,375.2 660.0,374.4 M630.0,332.5 633.1,333.1 635.0,335.6 632.5,336.9 634.4,339.4 637.5,340.2 641.2,340.6 643.8,342.5 644.4,345.0 646.2,346.5 651.2,346.9 656.2,347.2 660.6,346.5 663.8,348.1 666.9,349.8 671.2,350.0 675.0,350.6 678.1,351.9 681.2,352.8 684.4,353.8 685.0,355.6 682.5,357.5 681.2,359.4 682.5,361.2 681.9,363.1 683.1,365.0 682.5,366.9 678.8,367.5 673.8,368.1 670.0,369.0 668.1,370.6 668.8,372.5 M668.8,372.5 672.5,371.9 675.6,371.2 677.5,372.5 675.6,374.0 672.5,373.5 668.8,374.4 665.6,375.6 663.8,377.2 665.6,378.8 668.8,379.8 671.2,381.0 668.1,381.2 665.6,380.6 664.4,382.5 663.8,385.0 661.9,386.9 658.1,387.5 654.4,387.2 651.2,388.1 648.8,387.5 645.0,387.2 641.9,386.9 640.0,385.0 638.8,382.5 640.6,380.6 643.1,378.8 646.2,376.9 650.0,376.2 653.8,375.6 658.8,374.4 663.8,373.5 668.8,372.5 M630.0,380.6 633.8,381.2 636.9,381.9 638.8,382.5 M637.5,380.0 640.0,381.2 638.1,383.8 636.2,381.9 637.5,380.0 M630.0,394.4 633.8,392.5 637.5,391.2 642.5,390.0 647.5,388.8 651.2,388.1 M654.4,387.2 656.2,388.8 658.8,390.6 662.5,392.5 667.5,393.8 672.5,395.6 674.4,397.0 M651.2,388.1 653.1,386.9 655.0,388.1 653.1,389.0 651.2,388.1 M472.5,388.8 477.5,388.1 483.8,387.5 490.0,386.9 495.0,388.1 500.0,390.0 502.5,391.9 501.2,394.4 503.1,396.9 502.5,400.0 503.8,401.9 501.2,402.5 498.1,403.1 496.2,405.6 494.4,408.1 491.9,406.9 488.8,405.0 485.0,403.1 481.2,400.6 477.5,398.1 475.0,395.0 472.5,391.9 472.5,388.8 M465.0,385.6 467.5,384.4 471.2,382.5 470.6,380.0 M482.5,380.0 486.2,381.9 490.0,383.1 495.0,382.5 498.8,383.1 501.2,385.0 500.6,387.5 502.5,388.8 502.5,391.9 M501.2,385.0 505.0,383.8 508.8,383.1 513.8,382.5 M513.8,382.5 516.2,385.0 518.8,387.5 522.5,390.0 526.2,391.9 530.0,392.5 533.1,393.8 M530.0,392.5 531.2,395.6 529.4,398.1 531.2,400.6 534.4,402.5 535.0,405.0 532.5,406.2 530.6,408.1 531.2,410.6 533.1,412.5 M502.5,400.0 505.0,403.8 508.8,406.2 512.5,406.9 510.0,408.1 506.2,409.4 504.4,411.2 505.0,413.8 M512.5,406.9 513.1,410.0 514.4,413.1 517.5,412.8 521.2,412.2 525.0,411.9 528.8,411.5 533.1,412.5 M494.4,408.1 497.5,410.0 500.6,411.9 502.5,413.8 503.8,416.2 503.1,419.4 504.4,422.5 503.1,425.6 505.0,428.1 507.5,430.0 509.4,431.9 508.8,433.8 M505.0,413.8 508.1,412.8 511.2,413.8 513.8,416.2 514.4,420.0 516.2,423.1 518.1,423.8 516.2,426.2 514.4,428.8 512.5,430.0 509.4,431.9 M518.1,423.8 522.5,422.5 527.5,421.2 531.2,420.0 534.4,417.5 535.0,415.6 533.1,412.5 M534.4,417.5 538.8,418.1 543.8,417.5 548.8,418.1 553.8,420.0 557.5,421.2 561.2,420.0 565.0,420.6 M561.2,420.0 563.8,417.5 565.0,416.2 M533.1,393.8 532.5,396.9 533.8,398.8 538.8,399.4 543.8,400.0 548.8,400.2 553.8,400.0 558.8,399.4 562.5,398.1 565.0,397.5 M508.8,433.8 510.6,436.2 513.1,438.8 515.0,441.2 513.1,442.5 515.0,445.0 517.5,446.9 520.0,448.8 522.5,450.0 521.9,452.5 523.8,455.0 526.2,457.0 M565.0,423.1 561.2,423.8 557.5,423.1 552.5,423.8 548.8,423.1 546.2,424.4 543.1,425.6 545.0,428.1 542.5,426.9 540.0,425.0 536.9,424.4 534.4,425.6 532.5,428.1 535.0,430.0 538.1,431.9 540.0,435.0 542.5,438.1 545.0,441.2 542.5,440.0 539.4,437.5 536.2,435.0 533.1,432.5 531.9,430.0 M531.2,437.5 535.0,436.2 538.8,438.1 541.2,440.6 537.5,441.2 533.8,440.0 531.2,437.5 M532.5,444.4 536.2,443.8 540.0,445.0 543.8,445.6 541.2,446.9 536.2,446.2 532.5,444.4 M520.0,445.0 523.8,444.4 527.5,445.0 530.0,443.8 532.5,442.5 M535.0,433.8 538.8,435.6 542.5,438.8 546.2,441.9 548.8,445.0 552.5,448.1 554.4,449.4 M523.8,455.0 527.5,453.8 532.5,453.1 537.5,452.5 540.0,455.0 538.8,457.0 M533.1,450.0 536.2,449.4 538.8,451.2 535.6,452.5 533.1,450.0 M561.2,448.1 565.0,448.8 M465.0,413.8 470.0,415.0 475.0,416.9 477.5,418.8 482.5,421.2 487.5,423.1 491.9,425.0 495.0,427.5 496.9,429.4 494.4,431.2 491.9,430.0 490.6,428.1 487.5,426.2 483.8,425.0 481.2,426.9 483.1,429.4 481.2,431.9 M465.0,426.9 467.5,429.4 471.2,432.5 475.0,433.8 480.0,435.0 485.0,434.4 484.4,437.5 481.2,438.8 478.1,440.0 476.2,442.5 472.5,443.8 473.8,441.2 475.6,438.1 472.5,435.6 M472.5,443.8 471.2,446.2 467.5,445.0 465.0,445.6 M465.0,448.1 467.5,450.0 466.9,455.0 M476.2,401.9 480.0,403.1 483.8,404.4 487.5,406.2 490.0,408.1 487.5,407.5 483.8,406.2 480.0,405.0 476.9,403.8 476.2,401.9 M477.5,402.5 482.5,404.4 486.9,406.5 M465.0,393.8 466.9,395.6 468.8,396.2 M470.0,398.8 473.8,400.6 476.2,401.9 M473.8,405.0 477.5,405.6 M601.2,380.0 597.5,382.5 595.0,384.4 593.1,386.9 593.8,388.8 590.0,390.0 586.9,391.9 585.6,394.4 586.2,396.2 585.0,398.8 584.4,401.2 581.9,402.5 578.8,403.8 576.9,405.6 576.2,408.1 575.0,410.0 576.9,411.9 578.8,414.4 580.6,416.2 584.4,417.5 586.9,419.4 588.8,421.2 591.9,421.9 589.4,423.1 586.9,422.5 M580.0,380.0 579.4,383.1 580.6,385.6 583.1,386.9 586.2,385.6 589.4,383.8 593.1,382.5 596.2,381.2 598.8,380.0 M583.8,387.5 587.5,388.1 591.2,386.9 593.1,386.9 M560.0,398.8 563.8,397.5 568.8,396.5 573.8,396.9 578.8,398.1 582.5,399.4 585.0,398.8 M560.0,416.9 562.5,415.6 566.2,414.4 570.0,413.8 573.8,412.8 576.9,411.9 M560.0,420.0 563.8,420.2 565.0,418.1 562.5,416.2 M560.0,423.1 563.8,422.5 567.5,423.5 571.2,422.5 575.0,421.2 578.8,421.9 582.5,422.5 586.9,422.5 M565.0,424.4 568.8,425.6 572.5,425.0 576.2,423.8 580.0,424.0 585.0,425.0 588.8,426.9 586.9,427.5 582.5,426.2 578.8,425.6 574.4,426.5 570.6,427.2 566.9,426.5 565.0,424.4 M589.4,423.1 593.8,423.8 596.9,424.4 591.9,424.0 M591.9,421.9 596.2,421.2 601.2,420.6 606.2,420.6 610.0,418.8 613.8,416.9 617.5,415.6 621.2,414.4 625.0,413.1 628.1,413.8 632.5,414.4 637.5,414.0 640.0,413.1 641.9,415.0 645.0,416.2 648.8,416.5 651.2,418.1 653.8,419.8 657.5,420.2 660.0,420.0 M618.8,386.2 621.2,385.0 625.0,384.4 627.5,382.5 630.0,380.6 M618.8,386.2 622.5,387.5 625.6,388.1 627.5,390.0 626.9,392.5 628.1,394.0 632.5,393.5 636.2,391.9 640.0,390.6 643.8,389.4 647.5,388.1 651.2,387.5 655.0,387.2 657.5,388.1 660.0,388.8 M615.0,380.0 618.8,381.2 622.5,380.6 M625.0,380.0 630.0,381.2 635.0,380.6 640.0,381.2 M627.5,381.9 632.5,383.1 637.5,382.5 641.2,383.8 642.5,385.6 M650.0,386.9 653.1,387.5 656.2,386.9 658.8,387.8 M560.0,425.0 561.9,427.5 565.0,428.1 563.8,430.0 561.2,431.2 560.0,433.8 M562.5,433.8 566.2,433.1 569.4,434.4 566.9,436.2 568.8,438.8 570.6,441.2 568.1,442.5 566.2,444.4 570.0,446.2 572.5,448.1 575.0,450.0 573.8,452.5 576.2,454.4 580.0,455.0 583.8,455.6 587.5,456.2 M560.0,442.5 562.5,441.9 563.1,443.8 560.6,444.4 M602.5,455.6 606.2,455.0 610.0,456.0 M635.0,456.2 640.0,455.0 645.0,455.6 650.0,455.0 M640.0,385.6 643.4,386.7 647.9,387.3 651.2,387.9 654.6,387.3 658.0,387.9 660.8,390.1 664.2,392.4 667.6,394.1 671.5,395.2 673.7,396.3 677.1,398.6 680.5,400.2 683.9,401.9 687.2,403.6 690.6,405.3 694.0,407.0 696.8,409.8 698.5,412.6 698.5,415.4 696.8,417.7 694.0,418.8 690.6,420.5 687.2,421.6 682.7,422.5 678.2,421.8 673.7,422.2 669.2,422.5 665.3,422.7 662.5,421.1 659.1,419.9 655.7,419.4 652.4,419.9 650.1,418.2 647.9,416.6 644.5,416.0 641.1,414.9 640.0,413.7 M650.1,387.3 651.2,385.1 654.1,386.2 655.2,387.9 M662.5,386.7 664.2,383.9 667.0,382.2 670.4,381.1 M640.0,391.2 643.4,390.1 646.7,389.6 M683.9,401.9 687.2,401.4 690.6,401.9 694.0,403.1 698.5,404.2 703.0,404.2 707.5,404.5 710.9,405.9 714.2,407.0 717.6,408.7 721.0,408.1 723.8,407.0 726.1,408.1 M698.5,415.4 701.9,417.7 705.2,418.2 708.6,417.7 712.0,419.4 714.2,421.1 716.5,420.5 721.0,419.9 726.1,419.4 M714.2,421.1 716.5,423.3 715.4,426.1 716.5,428.9 719.9,429.5 722.7,430.6 725.5,432.3 M722.7,430.6 721.0,434.0 718.7,435.1 720.4,437.9 721.6,441.3 722.7,444.7 723.8,448.1 M512.5,440.0 515.0,441.9 513.1,444.4 515.6,447.5 517.5,446.9 518.8,444.4 521.2,443.8 525.0,443.1 528.8,442.5 530.0,444.4 533.8,445.6 537.5,446.2 541.2,446.9 545.0,446.2 543.8,448.1 540.0,447.5 536.2,446.9 532.5,447.5 535.0,450.0 536.9,452.5 537.5,455.6 536.9,459.4 535.0,460.0 534.4,456.9 532.5,453.8 530.6,452.5 530.0,455.6 530.6,458.1 528.8,457.5 527.5,455.0 525.0,453.8 523.8,455.6 522.5,453.1 523.1,450.6 521.9,448.1 520.0,446.9 M513.8,437.5 517.5,436.9 520.0,438.8 516.2,440.0 513.8,437.5 M531.2,437.5 535.0,436.2 538.8,437.5 542.5,438.8 545.0,441.2 541.2,442.5 537.5,441.2 533.8,440.6 531.2,438.8 531.2,437.5 M535.0,442.5 538.8,443.8 542.5,445.0 M532.5,449.4 536.2,448.8 539.4,450.0 536.9,451.2 533.1,451.0 532.5,449.4 M546.2,444.4 548.8,445.6 551.2,447.5 554.4,448.8 M561.2,436.2 565.0,435.6 567.5,437.5 563.8,438.1 561.2,436.2 M567.5,435.0 569.4,438.1 567.5,440.6 570.0,442.5 572.5,445.6 571.2,447.5 573.8,449.4 575.0,451.9 572.5,453.8 569.4,454.4 570.6,456.2 575.0,455.6 578.8,455.0 580.0,456.9 M539.4,466.2 541.2,464.4 544.4,464.4 546.2,465.6 548.8,466.9 551.9,466.2 556.2,466.9 560.6,467.5 565.0,467.8 564.4,469.4 560.0,469.0 557.5,470.6 553.1,470.6 550.0,469.4 546.9,468.1 543.1,468.8 540.0,468.5 539.4,466.2 M480.0,500.6 483.8,501.2 487.5,501.9 490.6,503.1 493.1,505.0 495.6,506.9 498.8,507.5 503.1,507.2 506.9,505.6 509.4,503.8 510.0,501.2 508.8,498.1 508.5,495.0 509.4,491.9 511.9,490.0 515.6,488.8 520.0,487.5 523.8,486.5 528.1,486.0 531.2,486.9 533.8,488.1 536.2,489.4 537.5,491.9 540.6,492.5 545.0,493.1 549.4,493.8 551.9,495.0 553.8,496.9 557.5,496.5 561.2,496.2 566.2,496.9 571.2,498.1 576.2,499.0 580.0,499.8 M551.9,495.0 552.5,498.8 553.1,502.5 552.5,505.6 551.2,508.1 M480.0,438.1 483.8,438.1 485.0,436.2 484.4,435.0 M560.0,442.1 564.2,444.2 569.6,447.4 574.9,451.7 581.2,453.8 587.6,455.9 591.9,460.2 597.2,460.8 601.4,457.0 605.7,455.3 611.0,456.6 615.2,458.1 618.4,460.8 623.7,461.2 630.1,460.2 634.4,458.1 637.6,455.9 642.9,455.9 647.1,454.9 650.3,455.3 649.2,459.1 648.2,463.4 648.8,468.7 647.5,472.9 M577.0,458.1 580.2,457.0 581.2,460.2 578.1,461.7 577.0,458.1 M569.6,463.4 572.7,462.3 572.7,465.5 M560.0,467.6 563.2,468.7 M563.2,455.9 566.4,454.9 567.4,457.0 M650.3,455.3 654.6,456.6 659.9,455.3 666.2,454.9 670.5,453.8 675.8,455.3 682.2,454.9 688.6,453.8 696.0,453.2 702.4,451.7 708.7,450.2 715.1,450.6 721.5,451.7 725.7,452.7 M721.5,440.0 723.6,446.4 724.7,451.7 725.7,454.9 M647.5,472.9 650.3,473.6 653.5,475.1 652.4,478.2 649.2,479.3 646.1,481.4 643.9,485.7 641.8,489.9 640.3,494.2 638.6,498.4 636.9,502.7 634.4,508.0 M653.5,475.1 650.3,480.4 646.1,483.6 644.6,486.3 M696.0,453.2 694.9,461.2 694.9,467.6 693.9,472.9 687.5,476.1 681.1,478.7 674.7,481.4 670.5,483.6 664.1,486.7 657.7,489.9 653.5,491.4 648.2,489.3 644.6,486.3 M674.7,481.4 675.8,487.8 676.9,492.1 685.4,493.1 691.7,495.7 700.2,500.6 708.7,504.8 713.0,508.0 M676.9,492.1 668.4,494.2 662.0,495.7 657.7,497.4 662.0,501.6 666.2,504.8 664.1,508.0 M644.6,486.3 645.0,491.0 643.9,495.2 641.8,500.6 640.7,503.7 639.7,508.0 M640.3,494.2 642.9,493.1 643.9,497.4 641.8,499.5 640.3,497.4 M616.3,469.7 620.6,467.6 625.9,467.2 631.2,465.5 636.5,464.4 633.3,467.2 630.1,469.7 625.9,471.9 620.6,472.9 617.4,471.9 616.3,469.7 M560.0,496.9 566.4,497.8 572.7,499.5 579.1,500.6 585.5,501.6 591.9,502.0 596.1,499.5 602.5,497.8 608.9,497.4 613.1,499.5 616.3,500.6 621.6,499.9 628.0,499.1 633.3,498.4 634.4,501.6 M410.6,408.8 413.8,407.5 415.6,405.6 417.5,406.2 417.8,410.0 416.9,413.8 415.6,416.9 414.4,418.8 412.5,417.5 410.6,415.0 409.4,411.9 410.6,408.8 M414.4,419.4 416.9,420.0 418.8,421.9 419.4,424.4 420.6,426.2 419.4,428.1 418.8,431.2 418.1,435.0 417.5,437.5 415.0,436.2 413.1,437.5 410.0,438.1 407.5,437.5 407.8,433.8 408.8,430.6 406.9,428.1 405.6,425.6 405.6,423.1 408.8,422.5 411.9,421.2 414.4,419.4 M425.0,400.0 426.2,403.8 425.6,406.9 422.5,408.1 425.6,407.5 428.8,408.1 431.2,410.0 435.0,411.9 438.8,413.8 442.5,415.6 446.2,417.5 450.0,418.8 453.1,420.0 455.6,421.9 458.8,423.1 461.9,424.4 465.0,426.2 466.9,428.1 470.0,429.4 472.5,430.6 474.4,433.8 475.0,436.9 476.9,438.8 475.0,440.6 472.5,441.9 473.8,443.1 471.2,443.8 470.0,443.1 M450.0,400.0 453.1,401.2 455.0,404.4 456.9,407.5 460.0,410.0 463.8,411.9 467.5,413.1 471.2,414.0 475.0,414.8 473.8,416.9 476.9,418.8 481.2,420.0 485.0,421.2 M472.5,441.9 475.6,442.5 478.8,441.2 480.0,439.4 478.1,438.1 481.2,437.5 484.4,436.9 485.0,435.0 M480.0,430.0 482.5,426.9 485.0,425.0 M480.0,430.0 481.9,432.5 485.0,433.1 M443.1,446.2 445.0,444.4 448.8,444.0 452.5,444.8 455.6,445.6 460.0,445.0 465.0,444.4 468.8,443.8 471.2,443.8 470.0,445.6 468.1,447.5 466.9,450.0 467.5,453.1 468.1,455.0 465.0,456.2 461.9,456.0 459.4,454.4 456.2,453.1 453.1,451.9 450.0,450.6 446.9,449.8 443.8,448.8 443.1,446.2 M385.0,455.0 388.1,453.8 391.2,453.1 395.0,454.4 398.8,453.8 402.5,455.0 406.2,455.6 410.0,454.4 413.1,452.5 416.9,451.2 420.6,451.0 423.8,451.9 425.0,454.4 426.9,455.6 429.4,453.8 431.9,453.5 430.0,455.6 428.1,457.5 426.2,459.4 426.9,461.9 428.8,463.1 430.6,464.4 431.9,467.5 430.0,469.4 431.9,471.2 433.8,471.9 431.2,472.5 428.1,473.8 425.0,475.6 422.5,477.0 M406.2,455.6 407.5,458.8 406.9,462.5 406.2,466.2 405.0,470.0 403.1,473.8 401.2,477.0 M406.9,456.9 405.6,458.8 M385.0,405.6 388.8,405.0 392.5,403.1 396.2,401.2 400.0,400.0 M406.9,460.0 407.5,465.0 406.9,470.0 405.0,472.5 401.9,475.0 399.4,478.1 400.6,481.2 402.5,483.8 406.2,486.2 409.4,489.4 412.5,491.9 414.4,495.0 415.6,498.8 416.9,502.5 417.5,505.6 418.1,508.1 M426.2,460.0 428.1,462.5 430.6,464.4 431.9,466.9 430.6,470.0 428.1,471.9 425.0,473.1 422.5,475.6 423.1,478.8 425.6,480.0 428.1,480.6 429.4,478.8 431.2,480.0 430.0,481.9 431.9,483.8 435.0,485.0 M435.0,485.0 435.6,488.8 434.4,491.2 431.2,492.5 428.1,494.4 425.0,496.2 422.5,497.5 423.8,500.6 425.0,502.5 423.1,505.0 420.6,507.5 418.1,508.1 M431.2,471.9 433.1,471.2 M435.0,485.0 438.8,486.2 442.5,486.9 446.2,486.5 450.0,486.2 455.0,487.2 458.8,488.5 462.5,490.0 466.2,490.6 468.1,492.5 468.8,495.6 470.6,498.1 473.8,499.4 477.5,500.0 481.2,500.2 485.0,500.0 M338.1,353.8 336.2,355.0 332.5,354.8 327.5,355.0 323.8,354.4 320.6,353.1 319.4,355.0 320.0,357.5 320.6,360.0 317.5,359.8 313.8,360.0 311.2,360.6 307.5,359.8 303.8,359.4 300.0,360.0 296.2,360.6 293.1,361.2 292.5,363.1 295.0,364.4 296.9,366.2 299.4,366.9 302.5,366.9 305.0,368.1 306.9,370.0 310.0,369.4 312.5,370.6 315.6,371.2 318.1,372.5 316.9,374.4 318.1,376.2 320.0,378.1 321.9,379.4 323.1,381.2 325.0,383.1 326.2,385.6 328.1,388.1 329.4,390.0 M319.4,355.0 318.1,352.5 315.6,353.1 316.9,355.6 313.1,353.8 311.9,354.8 M323.1,381.2 324.4,383.8 323.8,386.9 323.1,390.0 322.8,393.8 322.2,397.5 321.9,401.2 M325.0,383.1 325.6,387.5 324.4,389.4 M321.9,401.2 323.1,403.8 326.2,405.0 330.0,406.2 333.8,407.5 338.8,408.1 342.5,408.1 346.2,408.5 348.8,409.4 351.9,410.6 354.4,411.2 M346.9,408.1 349.4,408.8 348.8,410.2 346.9,409.8 346.9,408.1 M290.0,401.9 295.0,401.5 300.0,401.2 302.5,401.9 307.5,401.9 312.5,401.5 317.5,402.2 321.9,401.2 M354.4,411.2 356.2,412.5 359.4,411.9 362.5,411.2 363.1,413.1 361.9,415.0 360.0,416.2 M361.2,406.2 361.9,404.4 365.0,403.1 368.8,401.9 372.5,401.2 376.2,401.5 380.0,402.5 383.8,403.5 387.5,404.4 390.0,404.0 M361.2,406.2 360.6,408.8 361.9,411.2 M386.2,380.0 388.8,377.5 390.0,376.9 M386.2,380.0 390.0,380.2 M253.1,405.6 256.2,403.8 260.0,402.5 263.1,400.6 265.6,399.4 268.1,400.6 271.2,400.6 273.8,401.9 277.5,401.2 283.1,400.6 288.8,401.9 293.8,402.2 298.8,401.9 302.5,401.2 305.0,402.5 309.4,402.2 313.8,402.8 317.5,402.5 320.6,401.9 321.9,400.6 M321.9,400.6 322.5,397.5 323.1,393.8 324.0,390.6 325.0,388.1 326.2,386.2 327.5,387.5 329.4,390.0 328.1,386.9 326.9,385.0 M321.9,400.6 323.8,403.8 327.5,405.6 331.2,406.9 335.0,407.5 340.0,408.1 M253.1,405.6 254.4,408.1 256.9,410.0 258.8,411.9 256.9,413.1 256.2,415.0 M253.8,406.2 256.2,407.5 258.1,409.4 M256.9,413.1 260.0,413.8 263.1,414.4 265.0,415.6 268.8,415.0 272.5,414.8 277.5,414.4 278.1,416.2 280.6,417.5 278.8,419.4 275.6,421.2 274.4,423.1 275.6,425.0 275.0,427.5 273.8,429.4 274.4,431.2 271.9,432.5 268.8,433.1 270.6,435.0 272.5,437.5 271.9,440.0 270.6,441.9 272.5,443.1 274.4,445.0 271.9,446.2 270.0,447.5 269.4,450.0 268.8,452.5 M256.2,415.0 257.5,418.1 258.8,421.2 258.1,425.0 257.5,428.8 256.2,431.9 254.4,434.4 252.5,436.2 251.9,439.4 253.8,440.6 255.6,440.0 256.2,441.9 258.1,442.5 257.5,446.2 257.2,450.0 256.9,453.1 261.2,453.5 266.2,453.1 268.8,452.5 M268.8,452.5 272.5,453.1 276.2,453.8 278.8,456.2 280.6,458.8 283.1,460.6 286.2,461.2 288.1,459.4 290.0,457.5 292.5,456.9 295.0,457.8 298.8,457.2 302.5,456.5 306.2,456.2 310.0,456.5 313.8,456.2 316.2,455.6 318.1,453.1 320.0,450.6 322.5,449.4 326.2,448.8 328.8,447.5 330.0,445.0 331.9,443.1 333.8,441.2 336.2,440.0 335.6,438.8 333.1,437.5 331.9,435.0 333.1,432.5 335.0,430.6 336.9,428.8 338.8,426.9 340.0,425.0 M281.2,462.0 283.1,460.6 M355.6,433.1 358.1,431.0 361.2,430.0 363.1,431.2 364.4,433.1 363.1,435.0 360.0,435.6 357.5,434.8 355.6,433.1 M367.5,430.0 370.6,429.4 372.5,430.6 371.2,431.5 368.1,431.0 367.5,430.0 M345.6,437.5 348.1,437.2 348.8,439.4 346.9,440.6 345.6,439.4 345.6,437.5 M330.0,462.5 333.8,462.2 336.2,460.6 339.4,459.4 342.5,458.5 346.2,457.5 350.0,457.2 353.8,456.9 357.5,456.0 361.2,455.6 365.6,455.2 368.8,454.4 373.1,454.8 376.9,455.0 379.4,456.0 383.1,455.6 386.2,455.2 389.4,454.4 391.9,453.8 395.0,454.0 398.1,453.5 401.2,454.0 404.4,455.0 408.1,454.8 411.2,453.8 413.8,452.2 417.5,451.5 420.6,451.5 423.1,452.5 425.0,454.4 426.2,455.6 428.8,454.8 430.0,453.8 M331.9,438.1 334.4,438.8 336.2,440.0 334.4,440.6 M283.1,460.6 285.0,461.9 287.5,462.2 289.4,464.4 291.2,466.9 295.0,468.1 298.8,467.8 302.5,468.1 306.2,467.2 308.8,466.2 311.2,468.1 314.4,469.4 317.5,468.8 321.2,468.1 323.1,466.2 325.0,465.0 328.1,463.8 331.2,462.8 335.0,461.9 338.1,460.6 340.0,459.4 M283.1,460.6 282.5,464.4 281.2,467.5 280.0,470.6 278.1,473.8 276.2,476.2 273.8,478.1 270.6,480.0 267.5,481.2 264.4,482.5 261.2,483.1 258.8,485.0 256.2,486.9 254.4,488.8 253.1,491.2 251.9,493.8 250.0,496.2 248.8,498.8 248.1,502.5 249.4,505.6 250.6,507.8 M317.5,468.8 318.1,471.9 319.4,475.0 320.0,478.1 320.0,481.9 320.6,485.0 322.5,487.5 325.0,489.4 325.0,491.9 323.8,493.1 320.0,492.5 316.2,492.2 312.5,492.5 308.8,493.8 305.0,495.6 301.9,497.5 301.9,500.0 303.1,501.9 300.0,503.1 296.2,504.4 293.1,505.6 290.6,507.8 M330.0,355.7 333.0,355.3 335.5,354.6 337.5,353.6 336.0,352.6 339.0,351.6 342.0,350.6 345.1,350.1 347.1,348.1 348.6,345.6 349.1,343.1 351.6,342.1 354.1,341.6 357.1,341.1 M357.1,341.1 360.1,339.6 363.1,338.6 365.6,337.6 367.7,336.1 369.7,334.1 371.2,332.6 373.2,331.1 374.7,329.0 375.7,327.0 377.2,325.0 379.2,323.5 379.7,322.5 383.2,322.0 387.2,322.2 391.2,322.5 395.3,322.0 397.3,321.0 400.3,320.5 404.3,320.8 408.3,320.5 410.0,321.0 M364.1,338.1 366.6,336.6 369.7,335.6 371.7,336.6 374.2,337.1 372.2,338.6 369.2,339.6 366.1,339.6 364.1,338.1 M365.1,338.1 368.2,337.1 371.2,337.6 368.7,338.9 365.1,338.1 M375.7,325.5 377.7,324.0 380.2,325.0 382.2,324.0 384.7,325.5 385.2,328.0 385.7,330.0 383.2,331.1 380.7,330.6 378.2,331.1 376.2,329.5 374.7,328.0 375.7,325.5 M379.2,326.5 380.7,326.0 381.2,327.5 379.7,328.0 379.2,326.5 M381.7,328.0 383.2,327.5 383.7,329.0 382.2,329.5 381.7,328.0 M396.3,321.0 398.3,323.0 397.8,325.5 395.8,327.0 393.3,328.0 392.8,330.0 394.8,331.6 396.3,333.1 394.3,334.6 391.2,335.1 388.2,335.6 387.2,337.1 388.2,339.1 387.7,340.6 M374.2,337.1 377.2,337.6 380.2,338.6 383.2,339.6 385.7,340.6 387.7,340.6 M357.1,341.1 358.6,343.1 361.1,343.6 363.6,345.1 366.1,346.1 368.7,347.6 371.2,348.6 371.7,350.1 374.7,349.6 377.2,349.1 378.2,351.1 380.7,352.6 383.2,353.1 M387.7,340.6 389.2,343.1 390.2,345.6 390.7,347.6 388.7,348.6 386.2,349.1 384.7,350.6 385.7,352.1 387.7,351.6 389.7,352.1 391.2,353.6 390.2,354.1 M384.7,350.6 383.2,353.1 385.7,354.1 388.2,354.6 390.2,354.1 M270.0,252.0 274.0,251.0 278.0,253.0 275.0,255.0 276.0,258.0 273.0,257.0 271.0,254.0 270.0,252.0 M272.0,253.0 275.0,253.0 M320.0,268.0 323.0,265.0 327.0,264.0 326.0,267.0 324.0,270.0 322.0,271.0 320.0,268.0 M254.0,183.5 257.5,182.8 260.5,182.0 262.0,180.5 265.5,180.0 266.0,180.8 264.0,182.5 261.0,183.0 257.5,183.5 254.0,183.5 M518.1,300.6 524.2,298.9 531.2,298.0 540.0,298.9 548.8,299.8 557.5,300.6 562.8,302.4 569.8,303.2 576.8,302.4 580.2,301.1 M518.1,300.6 519.0,296.2 521.6,291.9 525.1,288.9 M518.1,300.6 517.2,304.1 519.9,306.8 518.1,309.4 514.6,311.1 M378.0,279.7 377.6,277.4 378.4,280.0 378.2,276.5 M377.0,276.8 376.9,274.7 375.6,272.9 371.3,271.1 M382.4,275.5 381.6,273.5 385.8,273.8 384.1,270.7 M376.9,272.3 380.6,271.7 380.0,269.4 380.5,271.6 378.3,271.8 M377.6,270.3 378.6,268.2 378.1,272.5 378.4,270.8 M377.8,267.3 381.7,268.2 381.1,263.5 385.5,263.2 381.7,263.7 M376.2,264.6 375.9,262.3 374.1,261.9 M377.7,260.9 377.4,257.4 381.8,257.5 381.1,259.3 381.6,257.1 M379.6,258.3 381.3,258.2 380.5,259.5 379.0,259.9 M380.2,256.9 383.5,257.5 386.5,258.6 384.9,258.4 M382.6,254.0 384.7,253.7 383.9,254.8 382.6,256.0 378.2,257.5 M385.6,255.7 390.5,254.5 386.7,254.5 382.3,254.9 M388.0,251.5 391.4,252.1 395.2,252.0 M390.3,252.5 393.6,252.5 396.1,250.0 M392.4,248.9 394.9,247.7 397.1,247.0 395.3,248.8 396.4,249.4 M393.5,250.3 398.5,247.7 396.4,248.9 393.8,249.8 M397.2,251.4 398.6,251.2 400.6,250.4 M400.1,250.3 404.3,250.1 401.4,249.4 M399.7,247.7 402.1,246.8 399.9,246.5 402.4,247.0 400.9,246.8 M403.5,249.6 405.2,248.8 399.9,249.0 402.9,248.2 399.4,247.0 M404.2,243.7 406.3,242.0 409.5,242.5 M409.3,247.5 411.9,248.4 415.3,246.8 409.9,248.7 406.5,249.0 M411.1,245.5 414.8,245.2 412.0,245.8 M411.1,244.1 413.8,243.2 417.5,242.7 416.4,242.9 419.5,243.8 M415.2,242.5 418.3,243.8 415.1,245.1 M415.8,240.0 421.6,237.7 424.8,238.3 427.3,238.2 M419.7,240.6 421.2,241.3 417.4,243.0 419.9,243.1 M421.7,240.8 423.2,240.5 419.2,241.4 422.6,240.4 421.2,242.3 M425.0,240.9 428.9,240.8 426.0,240.8 426.8,238.3 M426.6,237.2 430.0,236.9 432.2,236.3 435.4,235.6 M428.2,237.4 430.7,236.0 432.3,234.7 429.4,237.5 M430.0,234.1 433.3,233.3 432.0,233.0 M430.8,232.3 433.4,231.0 431.6,232.1 M434.0,230.9 435.2,229.0 432.5,230.3 434.7,229.7 M435.7,230.9 440.2,232.5 437.7,232.2 M439.3,231.1 440.8,230.1 443.4,231.1 M436.1,224.0 439.2,221.0 437.3,221.1 M440.7,224.1 444.1,224.9 442.1,225.7 439.1,227.7 435.5,229.3 M445.3,225.4 448.0,222.8 445.5,224.4 M446.6,223.9 449.7,223.4 451.3,224.2 453.6,222.8 455.8,222.9 M445.8,221.2 449.2,220.0 447.3,220.2 444.2,219.4 M450.5,221.3 453.0,221.7 454.5,222.2 457.7,222.8 M454.2,219.4 456.5,217.8 460.9,217.7 M455.0,217.8 457.1,214.8 455.5,217.5 451.5,221.1 448.4,222.1 M455.5,213.4 459.7,213.5 457.6,212.8 453.8,214.8 M460.0,215.0 463.1,214.6 465.7,213.5 462.8,213.9 467.3,211.3 M461.4,209.5 464.1,207.1 461.7,209.4 459.0,212.3 M464.9,211.1 467.1,211.3 464.9,211.9 466.9,213.4 M465.3,207.2 468.9,207.7 472.5,207.7 473.7,205.5 M466.3,207.3 470.3,208.7 468.0,209.7 M470.3,205.3 473.8,206.4 475.5,205.6 477.9,203.4 M471.9,203.1 474.6,203.2 478.7,203.3 480.6,201.4 477.2,200.0 M473.6,200.7 475.8,201.9 477.4,201.4 M476.0,202.5 479.2,202.5 482.6,200.7 485.1,199.8 M479.1,197.5 481.0,197.5 483.2,197.4 M479.0,196.3 480.6,196.7 482.5,194.6 480.1,194.9 475.6,195.2 M484.2,195.6 487.6,195.4 490.6,197.2 493.1,196.9 496.4,195.5 M485.3,195.7 488.3,195.1 491.4,194.6 494.2,194.6 498.5,192.0 M486.9,193.7 491.1,195.4 492.7,196.0 491.0,197.2 490.0,197.3 M492.3,196.8 493.9,195.0 490.3,196.1 493.4,196.7 M493.9,195.9 496.1,194.0 499.7,194.8 M498.2,196.9 500.9,196.9 497.0,195.6 499.5,196.1 M498.4,194.3 502.6,194.3 506.2,194.3 510.1,194.6 M503.0,193.1 507.1,192.5 504.5,194.3 507.4,195.3 M503.7,189.6 505.3,190.3 501.5,193.3 497.8,193.7 M506.6,191.8 511.6,192.2 508.5,191.9 M507.4,188.2 509.3,188.4 511.4,188.0 515.6,188.2 M511.8,192.6 514.1,192.7 515.8,192.5 M513.2,189.2 516.6,187.7 512.7,188.7 M515.5,189.0 516.7,188.5 514.5,189.5 M517.8,187.0 519.8,186.7 516.6,186.6 518.3,186.6 M520.0,187.3 522.0,188.6 520.1,188.5 523.8,188.1 M524.8,188.8 526.4,189.2 529.0,188.2 531.1,188.8 527.3,189.7 M525.6,190.7 528.6,191.9 526.1,193.3 M528.0,190.3 530.1,189.4 525.1,190.9 529.1,190.0 532.4,189.7 M531.1,187.1 533.7,187.7 537.9,188.3 542.5,186.8 M534.8,190.6 535.9,191.3 532.2,191.5 M537.3,188.0 542.9,188.2 545.0,188.7 540.1,191.2 542.8,190.9 M537.6,187.6 540.3,188.0 538.1,188.3 534.8,188.2 M540.5,185.3 543.4,184.5 546.5,182.8 M543.5,188.4 546.4,188.3 543.3,187.7 540.3,185.9 536.5,186.3 M546.2,183.7 548.8,183.2 550.5,183.8 553.1,185.3 549.8,185.5 M550.8,187.1 555.2,187.6 559.8,186.9 563.6,186.3 565.5,185.5 M552.6,184.5 557.0,184.4 554.6,184.3 553.0,183.5 551.3,182.2 M556.2,185.9 558.0,186.7 561.2,186.9 M558.9,186.8 562.6,185.9 564.7,185.3 M559.5,185.7 561.3,186.1 563.4,186.1 558.9,188.2 564.1,188.1 M562.6,181.4 565.3,179.6 563.1,179.0 M565.8,183.1 567.9,183.0 565.7,182.7 568.8,181.5 566.7,181.5 M380.3,255.8 384.2,257.0 388.0,256.5 383.8,255.9 378.4,254.4 M376.6,258.5 380.5,259.8 386.2,261.9 388.7,260.5 M376.1,260.0 379.8,260.2 376.1,261.4 382.1,261.4 M376.0,262.9 375.7,265.4 371.2,265.5 M379.9,264.6 382.1,264.6 378.8,264.9 M379.3,266.2 379.0,270.4 373.1,271.8 M379.3,268.0 384.8,267.9 379.6,268.6 383.3,267.0 379.7,266.9 M378.4,270.7 382.8,270.9 388.6,270.0 393.0,270.1 M381.2,270.2 387.1,269.0 391.7,268.9 M382.5,273.9 387.8,274.2 391.2,274.4 396.3,276.4 390.9,277.8 M381.5,274.4 385.4,274.1 387.5,274.8 385.6,268.0 M151.4,109.5 154.8,109.1 162.8,108.7 M154.9,111.6 162.1,112.1 166.6,111.7 M154.6,117.4 158.9,119.3 166.6,117.3 M149.4,120.0 154.5,119.2 158.8,118.5 163.2,117.6 M149.7,128.4 155.9,128.5 151.3,128.3 144.7,127.1 152.4,125.5 M154.2,133.2 157.3,134.7 152.3,133.9 156.2,133.3 M163.0,128.8 166.9,128.0 164.6,125.6 158.0,124.0 M161.9,134.7 165.6,135.7 170.8,134.2 163.4,133.1 167.6,134.7 M140.2,137.5 146.5,139.3 150.7,138.4 146.5,138.8 151.5,139.0 M141.2,140.2 143.2,143.1 139.3,143.6 M145.2,140.8 148.5,140.6 140.8,141.5 147.4,140.9 142.8,139.8 M148.9,143.5 152.0,143.5 148.9,143.1 153.2,144.0 M154.5,140.0 161.8,140.8 166.5,141.4 173.0,141.3 M157.9,140.7 161.7,141.8 166.8,142.0 161.7,141.5 M160.0,145.2 167.7,145.5 172.9,145.6 180.5,145.3 186.9,144.3 M165.3,145.5 171.4,144.0 175.7,143.8 M166.6,147.8 173.4,148.0 178.8,149.7 M167.1,153.9 172.8,154.4 179.9,155.0 175.2,156.1 M160.4,153.3 156.5,155.6 160.9,155.3 167.8,155.4 162.1,155.4 M159.3,154.8 163.2,157.1 159.4,157.8 153.7,158.5 157.9,158.5 M154.3,154.2 159.2,153.6 164.9,154.6 170.0,154.9 166.2,156.1 M153.3,158.1 158.3,159.3 162.9,159.3 M96.6,165.3 99.8,166.6 106.5,165.5 99.8,164.6 M100.3,163.8 106.8,162.3 99.8,163.1 93.3,164.8 89.3,165.1 M103.4,165.3 109.6,164.7 106.0,163.4 M105.8,165.7 109.9,167.3 115.5,166.4 121.8,165.5 M109.8,166.3 116.5,167.5 124.4,168.1 131.6,167.7 138.6,166.4 M114.1,167.0 117.8,166.1 123.0,166.4 128.1,166.7 134.7,166.8 M117.2,167.2 123.7,168.9 117.1,168.0 109.2,167.9 M120.6,165.2 123.9,166.3 129.0,166.2 124.8,165.3 121.1,165.1 M122.7,166.3 129.2,166.5 135.3,167.9 M126.3,163.5 133.8,164.5 138.2,164.6 M129.9,165.8 134.0,166.7 130.5,167.0 125.9,166.3 M130.5,167.4 135.5,168.5 131.9,167.5 M134.7,166.3 142.0,168.6 148.6,170.5 154.4,170.7 159.0,171.4 M138.5,169.3 144.7,169.3 152.6,168.8 M143.4,169.5 150.0,167.9 155.7,166.0 159.1,164.3 160.1,167.8 M144.6,176.0 151.5,175.1 155.8,176.3 159.2,175.9 163.4,175.4 M139.7,176.8 144.4,176.2 138.0,177.0 M84.0,173.1 91.1,174.5 87.0,173.7 M89.1,175.8 95.3,174.5 92.1,173.9 M92.2,177.2 96.2,177.2 90.4,178.6 96.1,178.2 91.8,177.7 M96.9,182.5 103.0,181.7 98.3,182.6 104.1,182.2 M99.8,184.8 105.1,184.0 112.9,184.8 108.2,185.2 M103.7,182.6 108.7,181.3 114.4,182.8 106.5,182.5 M107.6,182.6 114.8,180.9 109.1,182.0 103.5,181.3 M113.4,189.0 118.3,188.2 115.0,187.8 109.0,188.6 115.1,186.8 M115.9,184.0 119.5,184.9 124.0,185.5 M120.7,187.5 125.5,189.3 130.0,188.3 137.6,187.4 131.5,187.3 M125.7,188.5 131.2,190.7 136.5,190.9 126.1,190.6 120.7,190.6 M130.2,187.2 133.8,186.9 126.4,187.1 118.5,188.1 122.4,188.0 M134.6,183.2 142.3,182.2 135.3,183.6 142.7,181.7 148.2,182.0 M281.6,286.9 283.2,287.2 285.7,287.1 285.3,286.6 287.7,287.9 M277.4,292.2 279.6,294.7 278.6,293.2 M283.1,289.8 284.9,292.3 286.0,294.4 287.1,296.0 286.2,294.3 M277.9,293.1 280.0,294.7 277.6,293.7 M279.6,293.0 281.9,292.2 283.1,294.6 281.9,294.2 M282.6,295.2 283.5,295.8 284.5,296.8 M279.7,297.6 280.4,297.8 279.0,296.7 276.4,297.3 275.5,294.7 M286.0,293.5 289.0,293.1 287.9,291.8 289.0,293.3 286.0,289.8 M287.1,296.6 289.1,300.9 289.5,301.6 291.5,304.2 290.3,301.5 M288.2,296.4 290.6,299.4 294.2,299.8 296.3,299.2 M283.3,301.8 286.0,300.2 285.3,298.2 287.3,298.7 M283.9,301.6 284.3,304.5 282.6,305.0 283.8,307.9 285.2,308.4 M288.3,301.1 290.0,300.1 286.6,301.7 M286.8,304.7 289.6,304.1 289.0,302.3 292.4,302.9 295.6,307.4 M287.1,304.9 287.8,307.8 284.4,305.8 286.8,304.9 M417.9,302.1 419.5,302.6 422.6,303.5 420.0,304.1 416.2,303.5 M420.2,303.2 422.5,303.5 425.8,304.2 M422.0,304.0 425.9,303.9 422.3,303.2 M423.7,304.1 426.3,303.4 423.3,302.1 M424.2,308.1 426.2,309.3 430.0,310.2 426.8,309.8 M425.3,308.9 428.7,307.9 426.9,307.7 428.3,307.9 431.5,308.7 M428.6,306.1 430.4,306.5 429.2,306.0 430.7,305.2 432.0,304.6 M429.7,306.5 432.2,307.3 435.5,307.1 M429.0,312.2 432.6,313.6 434.6,312.7 432.4,313.2 429.4,314.4 M433.2,310.2 436.5,310.4 438.2,310.5 M433.3,310.5 435.1,311.5 431.9,311.2 435.3,310.4 437.0,309.0 M434.7,314.2 438.3,313.3 434.8,312.7 433.8,312.8 M436.4,311.4 438.1,310.7 441.1,311.0 M439.8,310.4 442.0,312.0 446.5,314.6 448.3,314.3 450.4,313.9 M440.9,311.9 442.9,310.9 440.0,311.6 442.1,310.3 M441.3,312.0 443.8,313.0 441.0,314.6 440.3,316.1 442.4,316.4 M442.1,309.7 446.0,310.8 448.0,308.9 449.5,310.2 M444.9,311.1 446.5,309.7 449.8,308.1 447.9,309.1 M527.5,431.5 528.7,432.3 531.1,431.8 M527.8,433.6 530.9,432.6 533.0,433.8 534.6,433.6 M528.7,435.4 531.1,436.4 529.3,435.3 528.7,432.6 M531.2,436.0 533.2,438.4 531.9,437.1 M533.8,435.7 534.8,437.5 532.7,437.0 M534.3,437.7 535.4,439.8 538.9,438.7 540.3,440.2 542.8,440.9 M533.7,440.4 535.4,441.6 536.8,442.7 535.6,442.3 M536.7,440.1 537.4,440.6 534.2,439.9 537.5,442.2 535.1,443.5 M539.8,441.8 542.6,443.4 540.6,440.9 M539.9,444.6 540.9,445.9 543.2,447.6 M538.9,446.6 540.6,448.2 542.8,448.9 542.1,448.7 542.7,450.7 M476.2,402.4 478.0,403.6 475.0,402.7 476.9,405.2 M476.6,402.4 478.3,403.0 474.8,403.0 472.4,403.0 470.6,402.7 M478.7,404.6 480.6,406.2 483.1,406.0 480.8,405.2 484.1,404.4 M480.8,403.7 483.5,405.9 481.6,404.6 479.1,403.6 477.5,402.1 M483.3,403.6 486.4,404.6 482.7,406.1 480.6,406.2 M484.4,404.9 486.2,404.7 489.9,406.1 M486.8,406.9 489.7,408.6 491.7,407.7 490.2,406.3 M488.9,408.5 491.6,410.3 490.3,409.2 494.6,410.1 498.6,411.7 M477.5,272.9 480.5,272.7 475.9,275.1 M480.0,272.3 484.4,272.4 481.2,274.0 485.2,276.2 487.5,276.6 M485.4,271.9 487.9,271.6 484.2,272.2 486.4,272.2 483.3,271.3 M486.6,271.1 489.1,270.5 487.0,271.6 489.3,270.1 486.5,269.9 M124.2,220.5 128.8,221.8 131.5,221.2 M126.0,219.0 131.3,220.8 128.3,221.6 131.3,222.0 M129.0,223.1 134.2,225.0 138.5,224.3 141.6,223.9 M129.9,221.4 134.1,222.8 136.6,222.7 139.5,221.0 M132.2,218.3 135.1,218.6 132.4,218.6 134.5,217.3 M135.3,218.8 138.0,219.6 132.1,217.4 M136.0,220.2 140.4,219.8 145.7,219.4 141.6,219.6 139.5,218.5 M138.7,222.4 141.7,222.4 146.3,220.9 151.3,218.8 155.2,218.5 M137.6,223.5 142.9,222.7 145.0,222.7 149.4,221.4 M140.0,225.2 145.7,229.1 144.6,227.3 147.5,226.2 144.0,225.2 M144.3,222.7 147.9,222.2 149.9,223.6 155.9,224.3 158.0,224.1 M146.0,223.8 150.1,222.6 143.0,221.6 M128.8,230.5 131.6,231.2 128.7,230.8 M129.9,233.9 134.3,233.2 130.4,233.1 132.4,233.2 M132.9,234.7 137.0,235.2 134.4,234.1 138.3,232.7 133.8,232.4 M136.6,232.8 140.1,232.7 136.6,232.0 139.8,231.1 M139.7,232.7 144.2,232.8 148.3,232.3 M142.1,233.8 144.4,232.3 146.4,233.5 149.1,234.3 M445.5,208.3 450.3,207.9 447.8,207.7 M447.3,207.3 452.1,206.5 454.5,205.6 M449.7,205.4 454.5,206.1 449.5,204.1 445.9,203.0 M451.5,205.3 454.7,206.7 456.7,204.7 M450.8,203.2 455.5,202.0 459.6,198.9 457.6,197.8 M453.7,201.0 458.2,201.9 461.7,200.5 M455.3,203.1 457.6,203.3 460.7,203.7 464.0,202.2 460.0,201.6 M457.4,201.1 461.4,200.9 457.3,202.3 M459.2,200.3 462.9,200.2 465.2,200.7 463.0,202.7 466.4,201.9 M459.0,199.2 463.7,198.8 468.5,197.9 M461.2,199.0 463.4,197.6 467.3,198.1 M462.3,200.4 465.4,200.1 469.6,200.3 M462.7,198.3 465.9,196.7 464.0,197.8 467.4,197.9" fill="none" stroke="#000" stroke-width="1" stroke-linejoin="round" shape-rendering="crispEdges"/><path d="M515.8,437.7 518.0,437.3 518.8,438.4 516.5,438.8 515.8,437.7Z M547.7,423.3 549.5,422.9 550.7,423.8 548.8,424.4 547.7,423.3Z M553.7,429.7 556.0,429.7 556.0,430.8 553.7,430.8 553.7,429.7Z M560.9,435.1 563.1,434.4 563.9,435.5 562.4,436.2 560.9,435.1Z M546.9,438.2 549.1,438.0 549.1,438.8 546.9,438.8 546.9,438.2Z M560.7,442.7 563.0,442.3 563.3,443.4 561.1,443.8 560.7,442.7Z M547.0,448.8 548.5,449.9 550.0,451.1 548.5,450.7 547.0,448.8Z M555.7,452.8 557.6,452.4 558.3,453.5 556.5,454.2 555.7,452.8Z M535.9,448.1 538.1,448.4 538.9,449.6 537.0,450.3 535.9,448.1Z M563.0,436.4 564.5,436.1 564.9,437.2 563.4,437.6 563.0,436.4Z M564.7,441.4 565.9,441.3 566.0,442.2 565.0,442.4 564.7,441.4Z M563.1,448.3 565.0,447.9 565.4,449.1 563.5,449.4 563.1,448.3Z M570.6,454.0 572.1,453.6 572.9,454.7 571.4,455.3 570.6,454.0Z M546.9,438.9 548.7,438.5 549.1,439.7 547.2,439.8 546.9,438.9Z M546.7,449.6 548.2,449.4 548.3,450.6 546.8,450.8 546.7,449.6Z M553.9,452.9 556.2,452.5 556.9,453.6 555.4,454.8 554.3,454.0 553.9,452.9Z M546.8,455.2 548.6,455.1 548.6,456.1 546.8,456.1 546.8,455.2Z M562.0,447.7 564.7,447.3 565.0,448.4 562.4,448.6 562.0,447.7Z M563.6,456.5 565.5,456.3 565.5,457.4 563.6,457.4 563.6,456.5Z M560.6,441.6 562.5,441.2 562.9,442.7 561.0,443.1 560.6,441.6Z M571.0,464.0 572.1,463.7 572.2,465.2 571.2,465.4 571.0,464.0Z M576.8,459.7 578.3,459.3 579.0,460.0 577.9,461.2 576.8,460.8 576.8,459.7Z M458.8,461.9 461.9,461.9 461.9,463.8 458.8,463.8 458.8,461.9Z M82.4,441.2 86.9,440.1 92.5,441.2 88.0,442.3 82.4,441.2Z M95.2,439.5 98.8,439.5 98.8,440.5 95.2,440.5 95.2,439.5Z M108.3,446.8 116.2,447.7 111.7,448.4 108.3,446.8Z M114.4,453.6 116.8,453.6 116.8,454.6 114.4,454.6 114.4,453.6Z M183.3,487.2 188.9,487.4 186.0,488.6 183.3,487.2Z" fill="#000" stroke="#000" stroke-width="1" shape-rendering="crispEdges"/></g>
<rect x="72" y="110" width="655" height="399" fill="none" stroke="#000" stroke-width="2" shape-rendering="crispEdges"/>
<g stroke="#000" stroke-width="1" shape-rendering="crispEdges">
<line x1="70" y1="509.5" x2="72" y2="509.5"/>
<line x1="70" y1="429.5" x2="72" y2="429.5"/>
<line x1="70" y1="349.5" x2="72" y2="349.5"/>
<line x1="70" y1="270.5" x2="72" y2="270.5"/>
<line x1="70" y1="190.5" x2="72" y2="190.5"/>
<line x1="70" y1="110.5" x2="72" y2="110.5"/>
<line x1="72.5" y1="509" x2="72.5" y2="513"/>
<line x1="160.5" y1="509" x2="160.5" y2="513"/>
<line x1="247.5" y1="509" x2="247.5" y2="513"/>
<line x1="334.5" y1="509" x2="334.5" y2="513"/>
<line x1="422.5" y1="509" x2="422.5" y2="513"/>
<line x1="509.5" y1="509" x2="509.5" y2="513"/>
<line x1="596.5" y1="509" x2="596.5" y2="513"/>
<line x1="684.5" y1="509" x2="684.5" y2="513"/>
</g>
<path d="M262.8 73.4 L262.3 72.4 L261.2 71.5 L260.2 71.0 L258.1 71.0 L257.1 71.5 L256.0 72.4 L255.5 73.4 L255.0 74.8 L255.0 77.2 L255.5 78.6 L256.0 79.6 L257.1 80.5 L258.1 81.0 L260.2 81.0 L261.2 80.5 L262.3 79.6 L262.8 78.6 M266.4 71.0 L266.4 81.0 M266.4 71.0 L273.2 71.0 M266.4 75.8 L270.6 75.8 M282.5 72.4 L281.5 71.5 L279.9 71.0 L277.9 71.0 L276.3 71.5 L275.3 72.4 L275.3 73.4 L275.8 74.3 L276.3 74.8 L277.3 75.3 L280.5 76.2 L281.5 76.7 L282.0 77.2 L282.5 78.1 L282.5 79.6 L281.5 80.5 L279.9 81.0 L277.9 81.0 L276.3 80.5 L275.3 79.6 M285.1 74.3 L288.3 81.0 M291.4 74.3 L288.3 81.0 M294.5 73.4 L294.5 72.9 L295.0 72.0 L295.5 71.5 L296.6 71.0 L298.7 71.0 L299.7 71.5 L300.2 72.0 L300.7 72.9 L300.7 73.9 L300.2 74.8 L299.2 76.2 L294.0 81.0 L301.2 81.0 M318.4 75.8 L317.9 74.8 L316.3 74.3 L314.8 74.3 L313.2 74.8 L312.7 75.8 L313.2 76.7 L314.2 77.2 L316.8 77.7 L317.9 78.1 L318.4 79.1 L318.4 79.6 L317.9 80.5 L316.3 81.0 L314.8 81.0 L313.2 80.5 L312.7 79.6 M321.5 77.2 L327.8 77.2 L327.8 76.2 L327.2 75.3 L326.7 74.8 L325.7 74.3 L324.1 74.3 L323.1 74.8 L322.0 75.8 L321.5 77.2 L321.5 78.1 L322.0 79.6 L323.1 80.5 L324.1 81.0 L325.7 81.0 L326.7 80.5 L327.8 79.6 M337.1 74.3 L337.1 81.0 M337.1 75.8 L336.1 74.8 L335.0 74.3 L333.5 74.3 L332.4 74.8 L331.4 75.8 L330.9 77.2 L330.9 78.1 L331.4 79.6 L332.4 80.5 L333.5 81.0 L335.0 81.0 L336.1 80.5 L337.1 79.6 M346.5 75.8 L345.9 74.8 L344.4 74.3 L342.8 74.3 L341.3 74.8 L340.7 75.8 L341.3 76.7 L342.3 77.2 L344.9 77.7 L345.9 78.1 L346.5 79.1 L346.5 79.6 L345.9 80.5 L344.4 81.0 L342.8 81.0 L341.3 80.5 L340.7 79.6 M352.2 74.3 L351.1 74.8 L350.1 75.8 L349.6 77.2 L349.6 78.1 L350.1 79.6 L351.1 80.5 L352.2 81.0 L353.7 81.0 L354.8 80.5 L355.8 79.6 L356.3 78.1 L356.3 77.2 L355.8 75.8 L354.8 74.8 L353.7 74.3 L352.2 74.3 M360.0 74.3 L360.0 81.0 M360.0 76.2 L361.5 74.8 L362.6 74.3 L364.1 74.3 L365.2 74.8 L365.7 76.2 L365.7 81.0 M375.6 74.3 L375.6 81.0 M375.6 75.8 L374.5 74.8 L373.5 74.3 L371.9 74.3 L370.9 74.8 L369.8 75.8 L369.3 77.2 L369.3 78.1 L369.8 79.6 L370.9 80.5 L371.9 81.0 L373.5 81.0 L374.5 80.5 L375.6 79.6 M379.7 71.0 L379.7 81.0 M394.3 71.0 L394.3 81.0 M390.6 71.0 L397.9 71.0 M400.5 73.4 L400.5 72.9 L401.0 72.0 L401.5 71.5 L402.6 71.0 L404.7 71.0 L405.7 71.5 L406.2 72.0 L406.7 72.9 L406.7 73.9 L406.2 74.8 L405.2 76.2 L400.0 81.0 L407.3 81.0 M410.9 74.3 L410.9 81.0 M410.9 76.2 L412.5 74.8 L413.5 74.3 L415.1 74.3 L416.1 74.8 L416.6 76.2 L416.6 81.0 M416.6 76.2 L418.2 74.8 L419.2 74.3 L420.8 74.3 L421.8 74.8 L422.3 76.2 L422.3 81.0 M440.5 74.3 L440.5 81.0 M440.5 75.8 L439.5 74.8 L438.4 74.3 L436.9 74.3 L435.8 74.8 L434.8 75.8 L434.3 77.2 L434.3 78.1 L434.8 79.6 L435.8 80.5 L436.9 81.0 L438.4 81.0 L439.5 80.5 L440.5 79.6 M444.7 74.3 L444.7 81.0 M444.7 76.2 L446.2 74.8 L447.3 74.3 L448.8 74.3 L449.9 74.8 L450.4 76.2 L450.4 81.0 M456.6 74.3 L455.6 74.8 L454.5 75.8 L454.0 77.2 L454.0 78.1 L454.5 79.6 L455.6 80.5 L456.6 81.0 L458.2 81.0 L459.2 80.5 L460.3 79.6 L460.8 78.1 L460.8 77.2 L460.3 75.8 L459.2 74.8 L458.2 74.3 L456.6 74.3 M464.4 74.3 L464.4 81.0 M464.4 76.2 L466.0 74.8 L467.0 74.3 L468.6 74.3 L469.6 74.8 L470.1 76.2 L470.1 81.0 M470.1 76.2 L471.7 74.8 L472.7 74.3 L474.3 74.3 L475.3 74.8 L475.8 76.2 L475.8 81.0 M485.7 74.3 L485.7 81.0 M485.7 75.8 L484.7 74.8 L483.6 74.3 L482.1 74.3 L481.0 74.8 L480.0 75.8 L479.5 77.2 L479.5 78.1 L480.0 79.6 L481.0 80.5 L482.1 81.0 L483.6 81.0 L484.7 80.5 L485.7 79.6 M489.9 71.0 L489.9 81.0 M493.5 71.0 L494.0 71.5 L494.6 71.0 L494.0 70.5 L493.5 71.0 M494.0 74.3 L494.0 81.0 M497.7 77.2 L503.9 77.2 L503.9 76.2 L503.4 75.3 L502.9 74.8 L501.8 74.3 L500.3 74.3 L499.2 74.8 L498.2 75.8 L497.7 77.2 L497.7 78.1 L498.2 79.6 L499.2 80.5 L500.3 81.0 L501.8 81.0 L502.9 80.5 L503.9 79.6 M512.7 75.8 L512.2 74.8 L510.7 74.3 L509.1 74.3 L507.5 74.8 L507.0 75.8 L507.5 76.7 L508.6 77.2 L511.2 77.7 L512.2 78.1 L512.7 79.1 L512.7 79.6 L512.2 80.5 L510.7 81.0 L509.1 81.0 L507.5 80.5 L507.0 79.6 M528.3 69.1 L527.3 70.0 L526.3 71.5 L525.2 73.4 L524.7 75.8 L524.7 77.7 L525.2 80.0 L526.3 82.0 L527.3 83.4 L528.3 84.3 M532.0 71.0 L532.0 81.0 M539.2 71.0 L532.0 77.7 M534.6 75.3 L539.2 81.0 M542.4 69.1 L543.4 70.0 L544.4 71.5 L545.5 73.4 L546.0 75.8 L546.0 77.7 L545.5 80.0 L544.4 82.0 L543.4 83.4 L542.4 84.3" fill="none" stroke="#fa3c3c" stroke-width="1" shape-rendering="crispEdges"/>
<path d="M76.5 97.0 L73.0 107.0 M76.5 97.0 L80.1 107.0 M74.3 103.7 L78.7 103.7 M82.3 100.3 L82.3 110.3 M82.3 101.8 L83.2 100.8 L84.0 100.3 L85.4 100.3 L86.2 100.8 L87.1 101.8 L87.6 103.2 L87.6 104.1 L87.1 105.6 L86.2 106.5 L85.4 107.0 L84.0 107.0 L83.2 106.5 L82.3 105.6 M90.7 100.3 L90.7 107.0 M90.7 103.2 L91.1 101.8 L92.0 100.8 L92.9 100.3 L94.2 100.3 M96.4 102.7 L104.4 102.7 M107.9 97.0 L107.9 107.0 M107.9 97.0 L111.4 107.0 M114.9 97.0 L111.4 107.0 M114.9 97.0 L114.9 107.0 M123.3 100.3 L123.3 107.0 M123.3 101.8 L122.5 100.8 L121.6 100.3 L120.2 100.3 L119.4 100.8 L118.5 101.8 L118.0 103.2 L118.0 104.1 L118.5 105.6 L119.4 106.5 L120.2 107.0 L121.6 107.0 L122.5 106.5 L123.3 105.6 M126.0 100.3 L128.6 107.0 M131.3 100.3 L128.6 107.0 L127.8 108.9 L126.9 109.9 L126.0 110.3 L125.5 110.3 M133.9 102.7 L141.9 102.7 M148.9 97.0 L148.9 104.6 L148.5 106.0 L148.1 106.5 L147.2 107.0 L146.3 107.0 L145.4 106.5 L145.0 106.0 L144.5 104.6 L144.5 103.7 M152.5 100.3 L152.5 105.1 L152.9 106.5 L153.8 107.0 L155.1 107.0 L156.0 106.5 L157.3 105.1 M157.3 100.3 L157.3 107.0 M160.9 100.3 L160.9 107.0 M160.9 102.2 L162.2 100.8 L163.1 100.3 L164.4 100.3 L165.3 100.8 L165.7 102.2 L165.7 107.0 M176.3 99.4 L176.3 98.9 L176.8 98.0 L177.2 97.5 L178.1 97.0 L179.9 97.0 L180.7 97.5 L181.2 98.0 L181.6 98.9 L181.6 99.9 L181.2 100.8 L180.3 102.2 L175.9 107.0 L182.1 107.0 M187.4 97.0 L186.0 97.5 L185.2 98.9 L184.7 101.3 L184.7 102.7 L185.2 105.1 L186.0 106.5 L187.4 107.0 L188.2 107.0 L189.6 106.5 L190.5 105.1 L190.9 102.7 L190.9 101.3 L190.5 98.9 L189.6 97.5 L188.2 97.0 L187.4 97.0 M194.0 99.4 L194.0 98.9 L194.4 98.0 L194.9 97.5 L195.8 97.0 L197.5 97.0 L198.4 97.5 L198.8 98.0 L199.3 98.9 L199.3 99.9 L198.8 100.8 L198.0 102.2 L193.5 107.0 L199.7 107.0 M206.8 97.0 L202.4 103.7 L209.0 103.7 M206.8 97.0 L206.8 107.0" fill="none" stroke="#1e3cff" stroke-width="1" shape-rendering="crispEdges"/>
<path d="M618.0 78.5 L618.0 88.5 M618.0 78.5 L624.2 88.5 M624.2 78.5 L624.2 88.5 M626.9 78.5 L629.1 88.5 M631.3 78.5 L629.1 88.5 M631.3 78.5 L633.5 88.5 M635.8 78.5 L633.5 88.5 M644.2 79.9 L643.3 79.0 L642.0 78.5 L640.2 78.5 L638.9 79.0 L638.0 79.9 L638.0 80.9 L638.4 81.8 L638.9 82.3 L639.7 82.8 L642.4 83.7 L643.3 84.2 L643.7 84.7 L644.2 85.6 L644.2 87.1 L643.3 88.0 L642.0 88.5 L640.2 88.5 L638.9 88.0 L638.0 87.1 M654.4 76.6 L646.4 91.8 M657.1 78.5 L657.1 88.5 M657.1 78.5 L663.3 88.5 M663.3 78.5 L663.3 88.5 M673.0 80.9 L672.6 79.9 L671.7 79.0 L670.8 78.5 L669.0 78.5 L668.1 79.0 L667.3 79.9 L666.8 80.9 L666.4 82.3 L666.4 84.7 L666.8 86.1 L667.3 87.1 L668.1 88.0 L669.0 88.5 L670.8 88.5 L671.7 88.0 L672.6 87.1 L673.0 86.1 M676.1 78.5 L676.1 88.5 M676.1 78.5 L681.9 78.5 M676.1 83.3 L679.7 83.3 M676.1 88.5 L681.9 88.5 M684.6 78.5 L684.6 88.5 M684.6 78.5 L688.6 78.5 L689.9 79.0 L690.3 79.5 L690.8 80.4 L690.8 81.8 L690.3 82.8 L689.9 83.3 L688.6 83.7 L684.6 83.7 M701.0 76.6 L693.0 91.8 M709.9 80.9 L709.4 79.9 L708.5 79.0 L707.6 78.5 L705.9 78.5 L705.0 79.0 L704.1 79.9 L703.6 80.9 L703.2 82.3 L703.2 84.7 L703.6 86.1 L704.1 87.1 L705.0 88.0 L705.9 88.5 L707.6 88.5 L708.5 88.0 L709.4 87.1 L709.9 86.1 M713.0 78.5 L713.0 88.5 M713.0 78.5 L717.0 78.5 L718.3 79.0 L718.7 79.5 L719.2 80.4 L719.2 81.8 L718.7 82.8 L718.3 83.3 L717.0 83.7 L713.0 83.7 M728.5 80.9 L728.1 79.9 L727.2 79.0 L726.3 78.5 L724.5 78.5 L723.6 79.0 L722.7 79.9 L722.3 80.9 L721.8 82.3 L721.8 84.7 L722.3 86.1 L722.7 87.1 L723.6 88.0 L724.5 88.5 L726.3 88.5 L727.2 88.0 L728.1 87.1 L728.5 86.1" fill="none" stroke="#000" stroke-width="1" shape-rendering="crispEdges"/>
<path d="M487.0 98.8 L487.0 107.0 M489.9 101.5 L489.9 107.0 M489.9 103.1 L491.0 101.9 L491.8 101.5 L492.9 101.5 L493.6 101.9 L494.0 103.1 L494.0 107.0 M496.5 98.8 L496.9 99.2 L497.3 98.8 L496.9 98.4 L496.5 98.8 M496.9 101.5 L496.9 107.0 M500.2 98.8 L500.2 105.4 L500.6 106.6 L501.3 107.0 L502.0 107.0 M499.1 101.5 L501.7 101.5 M503.9 98.8 L504.2 99.2 L504.6 98.8 L504.2 98.4 L503.9 98.8 M504.2 101.5 L504.2 107.0 M511.2 101.5 L511.2 107.0 M511.2 102.7 L510.5 101.9 L509.7 101.5 L508.6 101.5 L507.9 101.9 L507.2 102.7 L506.8 103.9 L506.8 104.7 L507.2 105.8 L507.9 106.6 L508.6 107.0 L509.7 107.0 L510.5 106.6 L511.2 105.8 M514.1 98.8 L514.1 107.0 M527.0 102.7 L526.2 101.9 L525.5 101.5 L524.4 101.5 L523.7 101.9 L522.9 102.7 L522.6 103.9 L522.6 104.7 L522.9 105.8 L523.7 106.6 L524.4 107.0 L525.5 107.0 L526.2 106.6 L527.0 105.8 M531.0 101.5 L530.3 101.9 L529.5 102.7 L529.2 103.9 L529.2 104.7 L529.5 105.8 L530.3 106.6 L531.0 107.0 L532.1 107.0 L532.8 106.6 L533.6 105.8 L533.9 104.7 L533.9 103.9 L533.6 102.7 L532.8 101.9 L532.1 101.5 L531.0 101.5 M536.5 101.5 L536.5 107.0 M536.5 103.1 L537.6 101.9 L538.3 101.5 L539.4 101.5 L540.2 101.9 L540.5 103.1 L540.5 107.0 M547.5 98.8 L547.5 107.0 M547.5 102.7 L546.7 101.9 L546.0 101.5 L544.9 101.5 L544.2 101.9 L543.5 102.7 L543.1 103.9 L543.1 104.7 L543.5 105.8 L544.2 106.6 L544.9 107.0 L546.0 107.0 L546.7 106.6 L547.5 105.8 M550.0 98.8 L550.4 99.2 L550.8 98.8 L550.4 98.4 L550.0 98.8 M550.4 101.5 L550.4 107.0 M553.7 98.8 L553.7 105.4 L554.1 106.6 L554.8 107.0 L555.5 107.0 M552.6 101.5 L555.2 101.5 M557.4 98.8 L557.7 99.2 L558.1 98.8 L557.7 98.4 L557.4 98.8 M557.7 101.5 L557.7 107.0 M562.1 101.5 L561.4 101.9 L560.7 102.7 L560.3 103.9 L560.3 104.7 L560.7 105.8 L561.4 106.6 L562.1 107.0 L563.2 107.0 L564.0 106.6 L564.7 105.8 L565.1 104.7 L565.1 103.9 L564.7 102.7 L564.0 101.9 L563.2 101.5 L562.1 101.5 M567.6 101.5 L567.6 107.0 M567.6 103.1 L568.7 101.9 L569.5 101.5 L570.6 101.5 L571.3 101.9 L571.7 103.1 L571.7 107.0 M578.3 102.7 L577.9 101.9 L576.8 101.5 L575.7 101.5 L574.6 101.9 L574.2 102.7 L574.6 103.5 L575.3 103.9 L577.2 104.3 L577.9 104.7 L578.3 105.4 L578.3 105.8 L577.9 106.6 L576.8 107.0 L575.7 107.0 L574.6 106.6 L574.2 105.8 M581.2 101.5 L580.8 101.9 L581.2 102.3 L581.6 101.9 L581.2 101.5 M581.2 106.2 L580.8 106.6 L581.2 107.0 L581.6 106.6 L581.2 106.2 M591.1 100.4 L591.8 100.0 L592.9 98.8 L592.9 107.0 M597.7 100.8 L597.7 100.4 L598.1 99.6 L598.4 99.2 L599.2 98.8 L600.6 98.8 L601.4 99.2 L601.7 99.6 L602.1 100.4 L602.1 101.1 L601.7 101.9 L601.0 103.1 L597.3 107.0 L602.5 107.0 M605.0 98.8 L605.0 107.0 M605.0 98.8 L609.8 98.8 M605.0 102.7 L608.0 102.7 M611.3 103.9 L615.7 103.9 L615.7 103.1 L615.3 102.3 L614.9 101.9 L614.2 101.5 L613.1 101.5 L612.4 101.9 L611.6 102.7 L611.3 103.9 L611.3 104.7 L611.6 105.8 L612.4 106.6 L613.1 107.0 L614.2 107.0 L614.9 106.6 L615.7 105.8 M618.2 98.8 L618.2 107.0 M618.2 102.7 L619.0 101.9 L619.7 101.5 L620.8 101.5 L621.5 101.9 L622.3 102.7 L622.6 103.9 L622.6 104.7 L622.3 105.8 L621.5 106.6 L620.8 107.0 L619.7 107.0 L619.0 106.6 L618.2 105.8 M625.2 100.8 L625.2 100.4 L625.6 99.6 L625.9 99.2 L626.7 98.8 L628.1 98.8 L628.9 99.2 L629.2 99.6 L629.6 100.4 L629.6 101.1 L629.2 101.9 L628.5 103.1 L624.8 107.0 L630.0 107.0 M634.4 98.8 L633.3 99.2 L632.5 100.4 L632.2 102.3 L632.2 103.5 L632.5 105.4 L633.3 106.6 L634.4 107.0 L635.1 107.0 L636.2 106.6 L636.9 105.4 L637.3 103.5 L637.3 102.3 L636.9 100.4 L636.2 99.2 L635.1 98.8 L634.4 98.8 M639.9 100.8 L639.9 100.4 L640.2 99.6 L640.6 99.2 L641.3 98.8 L642.8 98.8 L643.5 99.2 L643.9 99.6 L644.3 100.4 L644.3 101.1 L643.9 101.9 L643.2 103.1 L639.5 107.0 L644.6 107.0 M650.5 98.8 L646.8 104.3 L652.3 104.3 M650.5 98.8 L650.5 107.0 M654.5 103.5 L661.1 103.5 M664.1 100.8 L664.1 100.4 L664.4 99.6 L664.8 99.2 L665.5 98.8 L667.0 98.8 L667.7 99.2 L668.1 99.6 L668.4 100.4 L668.4 101.1 L668.1 101.9 L667.3 103.1 L663.7 107.0 L668.8 107.0 M672.1 100.4 L672.8 100.0 L673.9 98.8 L673.9 107.0 M678.7 98.8 L678.7 107.0 M678.7 98.8 L683.5 98.8 M678.7 102.7 L681.6 102.7 M684.9 103.9 L689.3 103.9 L689.3 103.1 L689.0 102.3 L688.6 101.9 L687.9 101.5 L686.8 101.5 L686.0 101.9 L685.3 102.7 L684.9 103.9 L684.9 104.7 L685.3 105.8 L686.0 106.6 L686.8 107.0 L687.9 107.0 L688.6 106.6 L689.3 105.8 M691.9 98.8 L691.9 107.0 M691.9 102.7 L692.6 101.9 L693.4 101.5 L694.5 101.5 L695.2 101.9 L695.9 102.7 L696.3 103.9 L696.3 104.7 L695.9 105.8 L695.2 106.6 L694.5 107.0 L693.4 107.0 L692.6 106.6 L691.9 105.8 M698.9 100.8 L698.9 100.4 L699.2 99.6 L699.6 99.2 L700.3 98.8 L701.8 98.8 L702.5 99.2 L702.9 99.6 L703.3 100.4 L703.3 101.1 L702.9 101.9 L702.2 103.1 L698.5 107.0 L703.6 107.0 M708.0 98.8 L706.9 99.2 L706.2 100.4 L705.8 102.3 L705.8 103.5 L706.2 105.4 L706.9 106.6 L708.0 107.0 L708.8 107.0 L709.9 106.6 L710.6 105.4 L711.0 103.5 L711.0 102.3 L710.6 100.4 L709.9 99.2 L708.8 98.8 L708.0 98.8 M713.5 100.8 L713.5 100.4 L713.9 99.6 L714.3 99.2 L715.0 98.8 L716.5 98.8 L717.2 99.2 L717.6 99.6 L717.9 100.4 L717.9 101.1 L717.6 101.9 L716.8 103.1 L713.2 107.0 L718.3 107.0 M724.2 98.8 L720.5 104.3 L726.0 104.3 M724.2 98.8 L724.2 107.0" fill="none" stroke="#000" stroke-width="1" shape-rendering="crispEdges"/>
<path d="M55.1 507.5 L57.7 507.5 L56.3 509.8 L57.0 509.8 L57.5 510.1 L57.7 510.4 L57.9 511.2 L57.9 511.8 L57.7 512.6 L57.2 513.2 L56.5 513.5 L55.8 513.5 L55.1 513.2 L54.9 512.9 L54.6 512.4 M60.7 507.5 L60.0 507.8 L59.6 508.6 L59.3 510.1 L59.3 510.9 L59.6 512.4 L60.0 513.2 L60.7 513.5 L61.2 513.5 L61.9 513.2 L62.4 512.4 L62.6 510.9 L62.6 510.1 L62.4 508.6 L61.9 507.8 L61.2 507.5 L60.7 507.5 M64.3 507.5 L64.3 513.5 M64.3 507.5 L67.6 513.5 M67.6 507.5 L67.6 513.5" fill="none" stroke="#000" stroke-width="1" shape-rendering="crispEdges"/>
<path d="M57.0 426.2 L54.6 430.2 L58.2 430.2 M57.0 426.2 L57.0 432.2 M60.7 426.2 L60.0 426.5 L59.6 427.3 L59.3 428.8 L59.3 429.6 L59.6 431.1 L60.0 431.9 L60.7 432.2 L61.2 432.2 L61.9 431.9 L62.4 431.1 L62.6 429.6 L62.6 428.8 L62.4 427.3 L61.9 426.5 L61.2 426.2 L60.7 426.2 M64.3 426.2 L64.3 432.2 M64.3 426.2 L67.6 432.2 M67.6 426.2 L67.6 432.2" fill="none" stroke="#000" stroke-width="1" shape-rendering="crispEdges"/>
<path d="M57.5 346.4 L55.1 346.4 L54.9 349.0 L55.1 348.7 L55.8 348.4 L56.5 348.4 L57.2 348.7 L57.7 349.3 L57.9 350.1 L57.9 350.7 L57.7 351.5 L57.2 352.1 L56.5 352.4 L55.8 352.4 L55.1 352.1 L54.9 351.8 L54.6 351.3 M60.7 346.4 L60.0 346.7 L59.6 347.5 L59.3 349.0 L59.3 349.8 L59.6 351.3 L60.0 352.1 L60.7 352.4 L61.2 352.4 L61.9 352.1 L62.4 351.3 L62.6 349.8 L62.6 349.0 L62.4 347.5 L61.9 346.7 L61.2 346.4 L60.7 346.4 M64.3 346.4 L64.3 352.4 M64.3 346.4 L67.6 352.4 M67.6 346.4 L67.6 352.4" fill="none" stroke="#000" stroke-width="1" shape-rendering="crispEdges"/>
<path d="M57.7 267.5 L57.5 266.9 L56.8 266.6 L56.3 266.6 L55.6 266.9 L55.1 267.7 L54.9 269.2 L54.9 270.6 L55.1 271.7 L55.6 272.3 L56.3 272.6 L56.5 272.6 L57.2 272.3 L57.7 271.7 L57.9 270.9 L57.9 270.6 L57.7 269.7 L57.2 269.2 L56.5 268.9 L56.3 268.9 L55.6 269.2 L55.1 269.7 L54.9 270.6 M60.7 266.6 L60.0 266.9 L59.6 267.7 L59.3 269.2 L59.3 270.0 L59.6 271.5 L60.0 272.3 L60.7 272.6 L61.2 272.6 L61.9 272.3 L62.4 271.5 L62.6 270.0 L62.6 269.2 L62.4 267.7 L61.9 266.9 L61.2 266.6 L60.7 266.6 M64.3 266.6 L64.3 272.6 M64.3 266.6 L67.6 272.6 M67.6 266.6 L67.6 272.6" fill="none" stroke="#000" stroke-width="1" shape-rendering="crispEdges"/>
<path d="M57.9 186.8 L55.6 192.8 M54.6 186.8 L57.9 186.8 M60.7 186.8 L60.0 187.1 L59.6 187.9 L59.3 189.4 L59.3 190.2 L59.6 191.7 L60.0 192.5 L60.7 192.8 L61.2 192.8 L61.9 192.5 L62.4 191.7 L62.6 190.2 L62.6 189.4 L62.4 187.9 L61.9 187.1 L61.2 186.8 L60.7 186.8 M64.3 186.8 L64.3 192.8 M64.3 186.8 L67.6 192.8 M67.6 186.8 L67.6 192.8" fill="none" stroke="#000" stroke-width="1" shape-rendering="crispEdges"/>
<path d="M55.8 107.0 L55.1 107.3 L54.9 107.9 L54.9 108.4 L55.1 109.0 L55.6 109.3 L56.5 109.6 L57.2 109.9 L57.7 110.4 L57.9 111.0 L57.9 111.9 L57.7 112.4 L57.5 112.7 L56.8 113.0 L55.8 113.0 L55.1 112.7 L54.9 112.4 L54.6 111.9 L54.6 111.0 L54.9 110.4 L55.3 109.9 L56.0 109.6 L57.0 109.3 L57.5 109.0 L57.7 108.4 L57.7 107.9 L57.5 107.3 L56.8 107.0 L55.8 107.0 M60.7 107.0 L60.0 107.3 L59.6 108.1 L59.3 109.6 L59.3 110.4 L59.6 111.9 L60.0 112.7 L60.7 113.0 L61.2 113.0 L61.9 112.7 L62.4 111.9 L62.6 110.4 L62.6 109.6 L62.4 108.1 L61.9 107.3 L61.2 107.0 L60.7 107.0 M64.3 107.0 L64.3 113.0 M64.3 107.0 L67.6 113.0 M67.6 107.0 L67.6 113.0" fill="none" stroke="#000" stroke-width="1" shape-rendering="crispEdges"/>
<path d="M66.4 514.3 L68.8 514.3 L67.5 516.3 L68.2 516.3 L68.6 516.6 L68.8 516.8 L69.1 517.6 L69.1 518.1 L68.8 518.8 L68.4 519.3 L67.7 519.6 L67.0 519.6 L66.4 519.3 L66.2 519.1 L65.9 518.6 M71.8 514.3 L71.1 514.6 L70.7 515.3 L70.4 516.6 L70.4 517.3 L70.7 518.6 L71.1 519.3 L71.8 519.6 L72.2 519.6 L72.9 519.3 L73.3 518.6 L73.6 517.3 L73.6 516.6 L73.3 515.3 L72.9 514.6 L72.2 514.3 L71.8 514.3 M74.7 514.3 L75.8 519.6 M77.0 514.3 L75.8 519.6 M77.0 514.3 L78.1 519.6 M79.2 514.3 L78.1 519.6" fill="none" stroke="#000" stroke-width="1" shape-rendering="crispEdges"/>
<path d="M153.5 515.6 L153.5 515.3 L153.7 514.8 L153.9 514.6 L154.4 514.3 L155.3 514.3 L155.7 514.6 L156.0 514.8 L156.2 515.3 L156.2 515.8 L156.0 516.3 L155.5 517.1 L153.3 519.6 L156.4 519.6 M159.1 514.3 L158.4 514.6 L158.0 515.3 L157.8 516.6 L157.8 517.3 L158.0 518.6 L158.4 519.3 L159.1 519.6 L159.6 519.6 L160.2 519.3 L160.7 518.6 L160.9 517.3 L160.9 516.6 L160.7 515.3 L160.2 514.6 L159.6 514.3 L159.1 514.3 M162.0 514.3 L163.2 519.6 M164.3 514.3 L163.2 519.6 M164.3 514.3 L165.4 519.6 M166.5 514.3 L165.4 519.6" fill="none" stroke="#000" stroke-width="1" shape-rendering="crispEdges"/>
<path d="M241.3 515.3 L241.7 515.1 L242.4 514.3 L242.4 519.6 M246.4 514.3 L245.8 514.6 L245.3 515.3 L245.1 516.6 L245.1 517.3 L245.3 518.6 L245.8 519.3 L246.4 519.6 L246.9 519.6 L247.6 519.3 L248.0 518.6 L248.2 517.3 L248.2 516.6 L248.0 515.3 L247.6 514.6 L246.9 514.3 L246.4 514.3 M249.4 514.3 L250.5 519.6 M251.6 514.3 L250.5 519.6 M251.6 514.3 L252.7 519.6 M253.9 514.3 L252.7 519.6" fill="none" stroke="#000" stroke-width="1" shape-rendering="crispEdges"/>
<path d="M334.2 514.3 L333.6 514.6 L333.1 515.3 L332.9 516.6 L332.9 517.3 L333.1 518.6 L333.6 519.3 L334.2 519.6 L334.7 519.6 L335.3 519.3 L335.8 518.6 L336.0 517.3 L336.0 516.6 L335.8 515.3 L335.3 514.6 L334.7 514.3 L334.2 514.3" fill="none" stroke="#000" stroke-width="1" shape-rendering="crispEdges"/>
<path d="M416.5 515.3 L416.9 515.1 L417.6 514.3 L417.6 519.6 M421.7 514.3 L421.0 514.6 L420.5 515.3 L420.3 516.6 L420.3 517.3 L420.5 518.6 L421.0 519.3 L421.7 519.6 L422.1 519.6 L422.8 519.3 L423.2 518.6 L423.5 517.3 L423.5 516.6 L423.2 515.3 L422.8 514.6 L422.1 514.3 L421.7 514.3 M425.0 514.3 L425.0 519.6 M425.0 514.3 L428.0 514.3 M425.0 516.8 L426.8 516.8 M425.0 519.6 L428.0 519.6" fill="none" stroke="#000" stroke-width="1" shape-rendering="crispEdges"/>
<path d="M503.4 515.6 L503.4 515.3 L503.6 514.8 L503.8 514.6 L504.3 514.3 L505.2 514.3 L505.6 514.6 L505.9 514.8 L506.1 515.3 L506.1 515.8 L505.9 516.3 L505.4 517.1 L503.2 519.6 L506.3 519.6 M509.0 514.3 L508.3 514.6 L507.9 515.3 L507.7 516.6 L507.7 517.3 L507.9 518.6 L508.3 519.3 L509.0 519.6 L509.5 519.6 L510.1 519.3 L510.6 518.6 L510.8 517.3 L510.8 516.6 L510.6 515.3 L510.1 514.6 L509.5 514.3 L509.0 514.3 M512.4 514.3 L512.4 519.6 M512.4 514.3 L515.3 514.3 M512.4 516.8 L514.2 516.8 M512.4 519.6 L515.3 519.6" fill="none" stroke="#000" stroke-width="1" shape-rendering="crispEdges"/>
<path d="M590.9 514.3 L593.4 514.3 L592.1 516.3 L592.7 516.3 L593.2 516.6 L593.4 516.8 L593.6 517.6 L593.6 518.1 L593.4 518.8 L593.0 519.3 L592.3 519.6 L591.6 519.6 L590.9 519.3 L590.7 519.1 L590.5 518.6 M596.3 514.3 L595.7 514.6 L595.2 515.3 L595.0 516.6 L595.0 517.3 L595.2 518.6 L595.7 519.3 L596.3 519.6 L596.8 519.6 L597.5 519.3 L597.9 518.6 L598.1 517.3 L598.1 516.6 L597.9 515.3 L597.5 514.6 L596.8 514.3 L596.3 514.3 M599.7 514.3 L599.7 519.6 M599.7 514.3 L602.6 514.3 M599.7 516.8 L601.5 516.8 M599.7 519.6 L602.6 519.6" fill="none" stroke="#000" stroke-width="1" shape-rendering="crispEdges"/>
<path d="M680.1 514.3 L677.8 517.8 L681.2 517.8 M680.1 514.3 L680.1 519.6 M683.7 514.3 L683.0 514.6 L682.5 515.3 L682.3 516.6 L682.3 517.3 L682.5 518.6 L683.0 519.3 L683.7 519.6 L684.1 519.6 L684.8 519.3 L685.2 518.6 L685.5 517.3 L685.5 516.6 L685.2 515.3 L684.8 514.6 L684.1 514.3 L683.7 514.3 M687.0 514.3 L687.0 519.6 M687.0 514.3 L690.0 514.3 M687.0 516.8 L688.8 516.8 M687.0 519.6 L690.0 519.6" fill="none" stroke="#000" stroke-width="1" shape-rendering="crispEdges"/>
<g shape-rendering="crispEdges">
<rect x="215.6" y="535" width="40.8" height="11.5" fill="#4838c8"/>
<rect x="256.4" y="535" width="40.8" height="11.5" fill="#1464d2"/>
<rect x="297.1" y="535" width="40.8" height="11.5" fill="#3c96f5"/>
<rect x="337.9" y="535" width="40.8" height="11.5" fill="#78b9fa"/>
<rect x="419.4" y="535" width="40.8" height="11.5" fill="#ffa000"/>
<rect x="460.2" y="535" width="40.8" height="11.5" fill="#ff3200"/>
<rect x="500.9" y="535" width="40.8" height="11.5" fill="#a50000"/>
<rect x="541.7" y="535" width="40.8" height="11.5" fill="#c8a096"/>
<polygon points="176,541 215.5,535.2 215.5,546.8" fill="#2800a0"/><path d="M215.5,535.5 L182,540.4 M215.5,546.5 L182,541.6" stroke="#000" stroke-width="1" fill="none" stroke-dasharray="4.5 3.5"/>
<polygon points="625,541 582.5,535.2 582.5,546.8" fill="#785046"/><path d="M582.5,535.5 L619,540.4 M582.5,546.5 L619,541.6" stroke="#000" stroke-width="1" fill="none" stroke-dasharray="4.5 3.5"/>
<line x1="215.5" y1="546.5" x2="582.7" y2="546.5" stroke="#000"/>
<line x1="215.5" y1="535" x2="215.5" y2="547" stroke="#000"/>
<line x1="256.5" y1="535" x2="256.5" y2="547" stroke="#000"/>
<line x1="297.5" y1="535" x2="297.5" y2="547" stroke="#000"/>
<line x1="337.5" y1="535" x2="337.5" y2="547" stroke="#000"/>
<line x1="378.5" y1="535" x2="378.5" y2="547" stroke="#000"/>
<line x1="419.5" y1="535" x2="419.5" y2="547" stroke="#000"/>
<line x1="460.5" y1="535" x2="460.5" y2="547" stroke="#000"/>
<line x1="500.5" y1="535" x2="500.5" y2="547" stroke="#000"/>
<line x1="541.5" y1="535" x2="541.5" y2="547" stroke="#000"/>
<line x1="582.5" y1="535" x2="582.5" y2="547" stroke="#000"/>
</g>
<path d="M211.1 552.8 L216.5 552.8 M221.6 549.1 L218.6 553.4 L223.1 553.4 M221.6 549.1 L221.6 555.6" fill="none" stroke="#000" stroke-width="1" shape-rendering="crispEdges"/>
<path d="M251.9 552.8 L257.3 552.8 M260.0 549.1 L263.3 549.1 L261.5 551.6 L262.4 551.6 L263.0 551.9 L263.3 552.2 L263.6 553.1 L263.6 553.7 L263.3 554.7 L262.7 555.3 L261.8 555.6 L260.9 555.6 L260.0 555.3 L259.7 555.0 L259.4 554.4" fill="none" stroke="#000" stroke-width="1" shape-rendering="crispEdges"/>
<path d="M292.6 552.8 L298.0 552.8 M300.4 550.6 L300.4 550.3 L300.7 549.7 L301.0 549.4 L301.6 549.1 L302.8 549.1 L303.4 549.4 L303.7 549.7 L304.0 550.3 L304.0 551.0 L303.7 551.6 L303.1 552.5 L300.1 555.6 L304.3 555.6" fill="none" stroke="#000" stroke-width="1" shape-rendering="crispEdges"/>
<path d="M333.4 552.8 L338.8 552.8 M341.8 550.3 L342.4 550.0 L343.3 549.1 L343.3 555.6" fill="none" stroke="#000" stroke-width="1" shape-rendering="crispEdges"/>
<path d="M369.6 552.8 L375.0 552.8 M378.9 549.1 L378.0 549.4 L377.4 550.3 L377.1 551.9 L377.1 552.8 L377.4 554.4 L378.0 555.3 L378.9 555.6 L379.5 555.6 L380.4 555.3 L381.0 554.4 L381.3 552.8 L381.3 551.9 L381.0 550.3 L380.4 549.4 L379.5 549.1 L378.9 549.1 M383.7 555.0 L383.4 555.3 L383.7 555.6 L384.0 555.3 L383.7 555.0 M389.7 549.1 L386.7 549.1 L386.4 551.9 L386.7 551.6 L387.6 551.3 L388.5 551.3 L389.4 551.6 L390.0 552.2 L390.3 553.1 L390.3 553.7 L390.0 554.7 L389.4 555.3 L388.5 555.6 L387.6 555.6 L386.7 555.3 L386.4 555.0 L386.1 554.4" fill="none" stroke="#000" stroke-width="1" shape-rendering="crispEdges"/>
<path d="M415.8 549.1 L414.9 549.4 L414.3 550.3 L414.0 551.9 L414.0 552.8 L414.3 554.4 L414.9 555.3 L415.8 555.6 L416.4 555.6 L417.3 555.3 L417.9 554.4 L418.2 552.8 L418.2 551.9 L417.9 550.3 L417.3 549.4 L416.4 549.1 L415.8 549.1 M420.6 555.0 L420.3 555.3 L420.6 555.6 L420.9 555.3 L420.6 555.0 M426.6 549.1 L423.6 549.1 L423.3 551.9 L423.6 551.6 L424.5 551.3 L425.4 551.3 L426.3 551.6 L426.9 552.2 L427.2 553.1 L427.2 553.7 L426.9 554.7 L426.3 555.3 L425.4 555.6 L424.5 555.6 L423.6 555.3 L423.3 555.0 L423.0 554.4" fill="none" stroke="#000" stroke-width="1" shape-rendering="crispEdges"/>
<path d="M460.2 550.3 L460.8 550.0 L461.7 549.1 L461.7 555.6" fill="none" stroke="#000" stroke-width="1" shape-rendering="crispEdges"/>
<path d="M500.3 550.6 L500.3 550.3 L500.6 549.7 L500.9 549.4 L501.5 549.1 L502.7 549.1 L503.3 549.4 L503.6 549.7 L503.9 550.3 L503.9 551.0 L503.6 551.6 L503.0 552.5 L500.0 555.6 L504.2 555.6" fill="none" stroke="#000" stroke-width="1" shape-rendering="crispEdges"/>
<path d="M541.4 549.1 L544.7 549.1 L542.9 551.6 L543.8 551.6 L544.4 551.9 L544.7 552.2 L545.0 553.1 L545.0 553.7 L544.7 554.7 L544.1 555.3 L543.2 555.6 L542.3 555.6 L541.4 555.3 L541.1 555.0 L540.8 554.4" fill="none" stroke="#000" stroke-width="1" shape-rendering="crispEdges"/>
<path d="M584.5 549.1 L581.5 553.4 L586.0 553.4 M584.5 549.1 L584.5 555.6" fill="none" stroke="#000" stroke-width="1" shape-rendering="crispEdges"/>
<g shape-rendering="crispEdges">
<clipPath id="lc"><circle cx="672.5" cy="55.35" r="22.5"/></clipPath>
<g clip-path="url(#lc)">
<polygon points="640,20 705,20 691.2,42.5 678.0,59.7 670.3,60.0 653.7,43.0" fill="#0b1de0"/>
<polygon points="643,40.8 651,48.8 660.6,58.3 666.2,60.4 670.3,61.0 678.4,60.4 693.7,48.2 702,41.7 702,85 640,85" fill="#00ffff"/>
<polygon points="665.8,65.8 667.6,63.0 672.7,61.8 678.4,60.8 684.6,59.6 684.6,60.8 678.4,62.5 672.2,65.8" fill="#ffffff"/>
</g>
<rect x="663" y="43" width="19" height="6" fill="#fff"/>
<g fill="#0b1de0">
<rect x="665" y="44" width="1" height="5"/><rect x="668" y="48" width="1" height="1"/>
<rect x="670" y="44" width="1" height="3"/><rect x="672" y="48" width="1" height="1"/>
<rect x="675" y="44" width="1" height="1"/><rect x="675" y="46" width="1" height="3"/>
<rect x="679" y="44" width="2" height="1"/><rect x="680" y="46" width="1" height="3"/>
</g>
</g>

</svg></body></html>
